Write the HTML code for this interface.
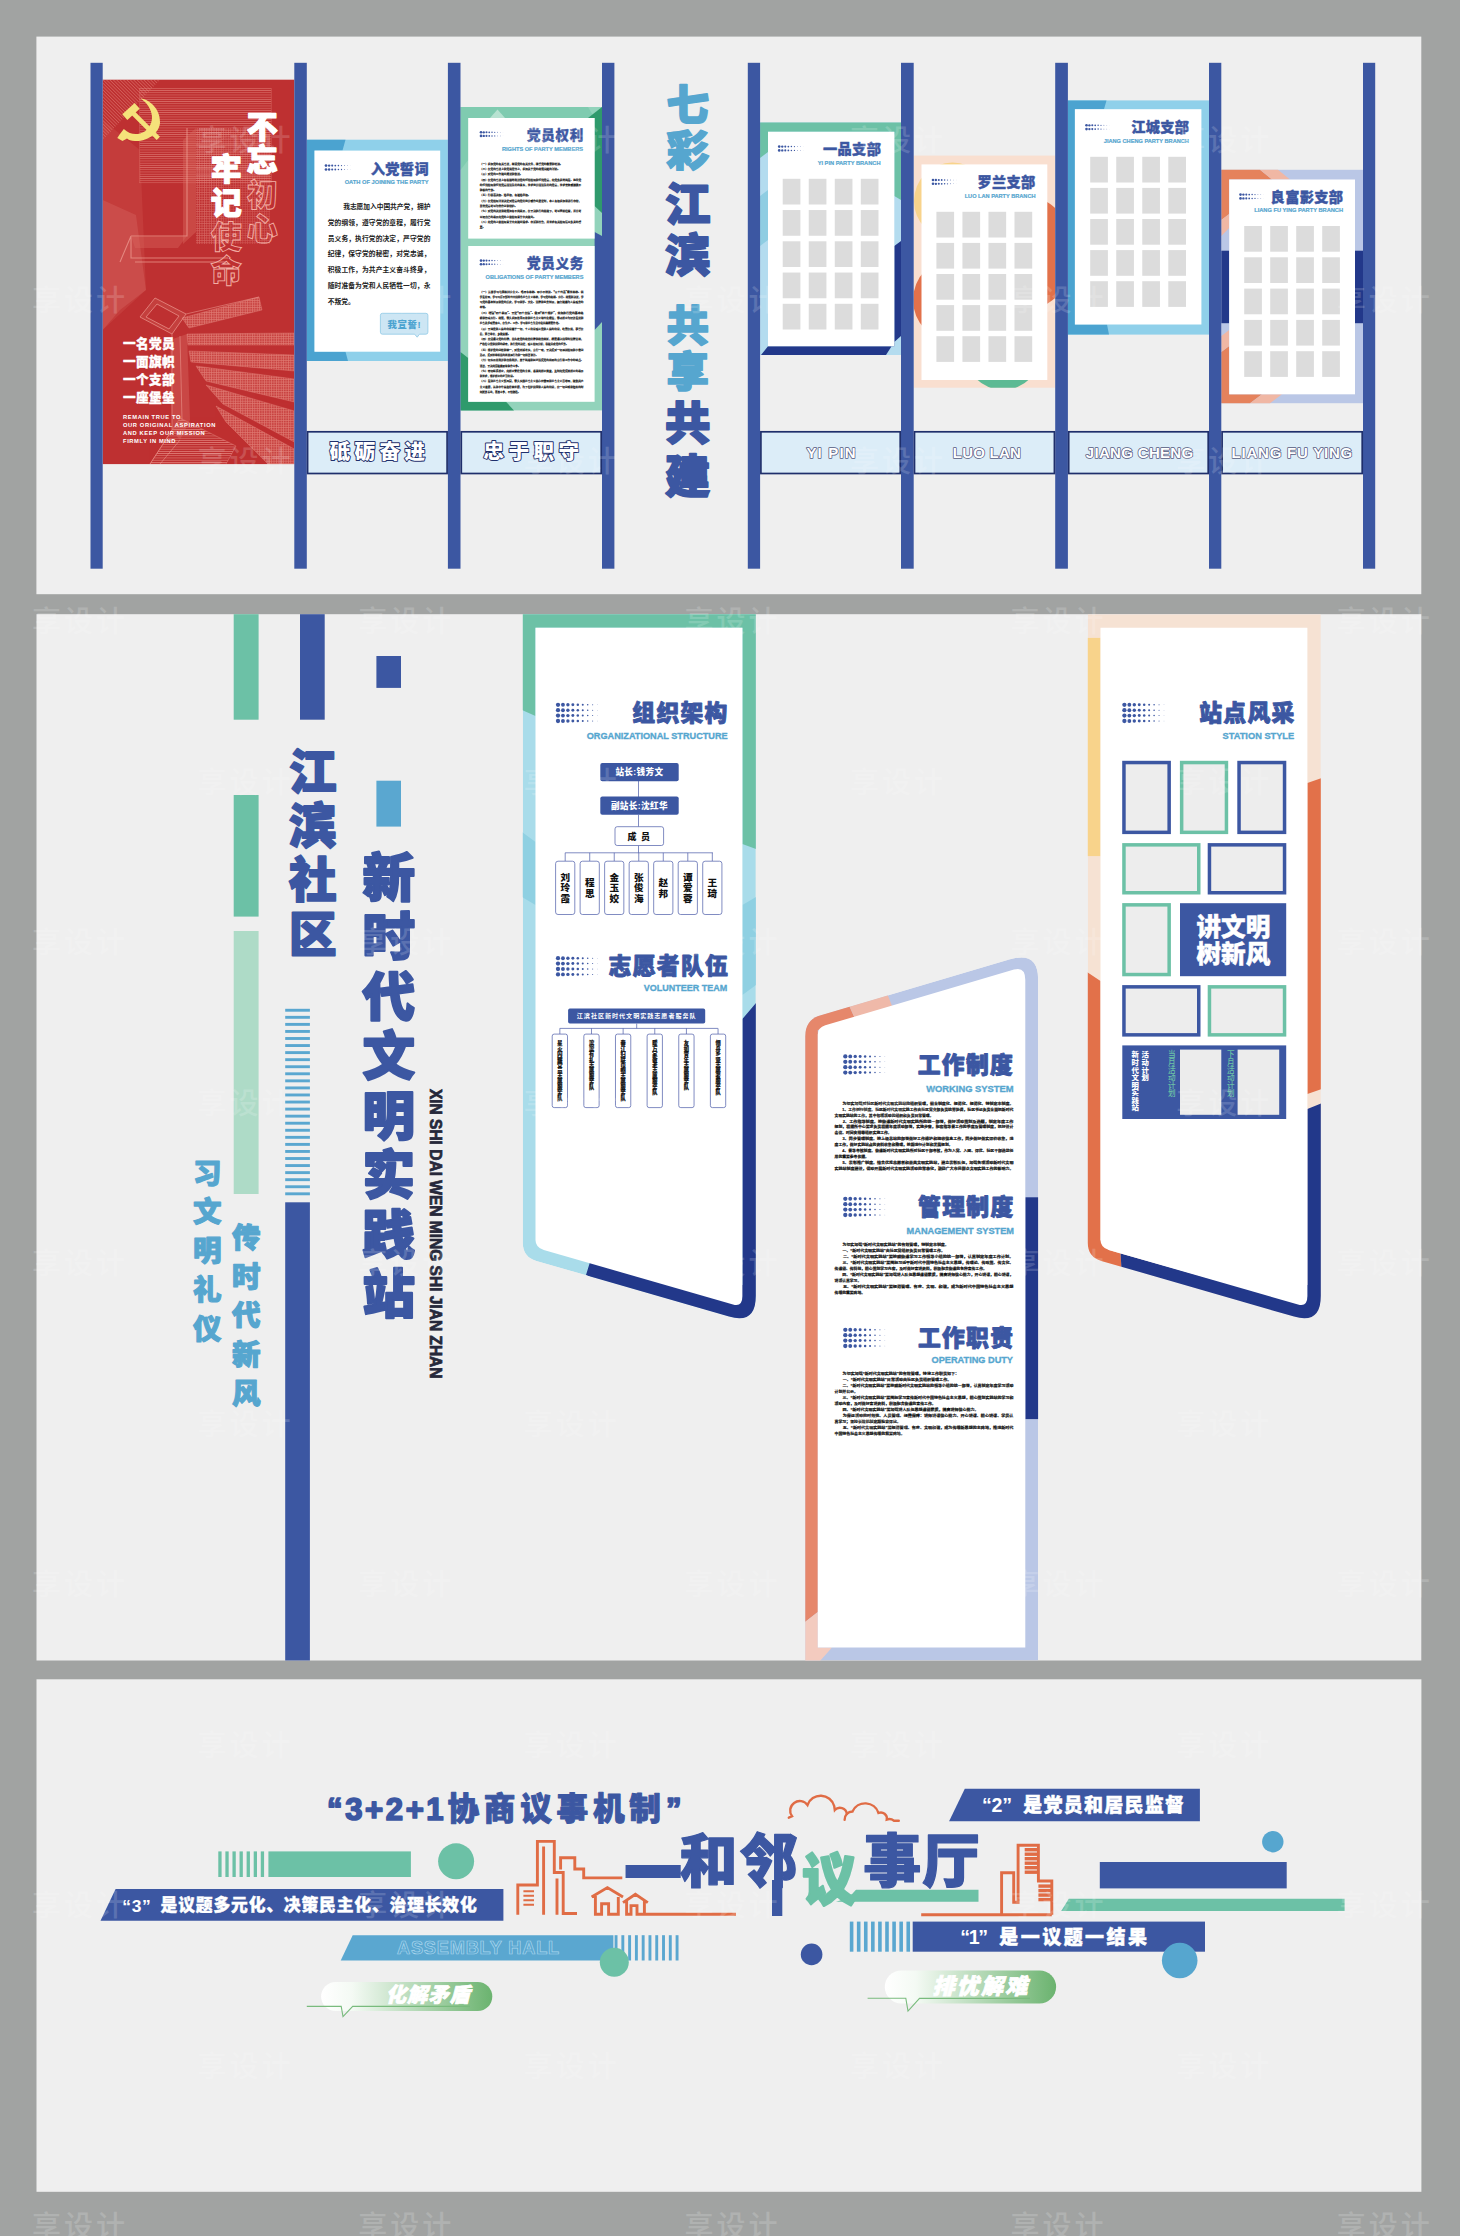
<!DOCTYPE html>
<html lang="zh-CN"><head><meta charset="utf-8"><title>江滨社区 新时代文明实践站</title>
<style>html,body{margin:0;padding:0;background:#a1a3a2;}svg{display:block;font-family:'Liberation Sans','Noto Sans CJK SC',sans-serif;}
svg text[font-weight="900"]{font-family:'Liberation Sans','Noto Sans CJK SC Black','Noto Sans CJK SC',sans-serif;}</style></head>
<body>
<svg width="1460" height="2236" viewBox="0 0 1460 2236">
<defs>
<pattern id="hatchH" width="4" height="2.2" patternUnits="userSpaceOnUse"><rect width="4" height="0.7" fill="#f0a096"/></pattern>
<pattern id="hatchG" width="2.4" height="2.4" patternUnits="userSpaceOnUse"><path d="M0,0.4 H2.4 M0.4,0 V2.4" stroke="#f0a096" stroke-width="0.6"/></pattern>
<pattern id="hatchD" width="2.4" height="2.4" patternUnits="userSpaceOnUse" patternTransform="rotate(45)"><rect width="2.4" height="0.8" fill="#e88a80"/></pattern>
</defs>
<rect width="1460" height="2236" fill="#a1a3a2"/>
<rect x="36.40" y="36.60" width="1384.90" height="557.60" fill="#efefef" />
<g>
<rect x="102.70" y="79.70" width="191.60" height="384.40" fill="#be3031" />
<clipPath id="cpRed"><rect x="102.7" y="79.7" width="191.6" height="384.4"/></clipPath>
<g clip-path="url(#cpRed)" fill="none" stroke="#f0a096">
<rect x="139.7" y="88.3" width="131.5" height="94.5" fill="url(#hatchH)" stroke="#e88a80" stroke-width="0.5" opacity="0.55"/>
<polygon points="183,140 196,128 196,232 183,244" fill="#d9675e" stroke="none" opacity="0.45"/>
<polygon points="196,128 236,128 223,140 223,244 196,244" fill="url(#hatchG)" stroke="none" opacity="0.5"/>
<polygon points="236,128 270,128 270,244 223,244 223,140" fill="url(#hatchG)" stroke="none" opacity="0.35"/>
<polygon points="102.7,120 140,150 146,290 102.7,330" fill="#d9685e" stroke="none" opacity="0.22"/>
<polygon points="102.7,200 136,215 146,290 120,310 102.7,330" fill="#e48a7e" stroke="none" opacity="0.22"/>
<polygon points="102.7,79.7 160,79.7 102.7,140" fill="url(#hatchD)" stroke="none" opacity="0.5"/>
<path d="M131,236 L187,236 L187,128 M131,236 L131,258 L228,258 M135,262 L226,262 M131,236 L120,262" stroke-width="1.1" opacity="0.7"/>
<polygon points="131,236 187,236 178,248 135,248" fill="#d9675e" stroke="none" opacity="0.4"/>
<polygon points="182,318 259,297 262,310 189,328" fill="#e57f73" stroke="none" opacity="0.28"/>
<polygon points="182,318 259,297 262,310 189,328" fill="url(#hatchG)" stroke="#f0a096" stroke-width="0.5" opacity="0.6"/>
<polygon points="187,334 294.3,333 294.3,345 188,345" fill="#e57f73" stroke="none" opacity="0.28"/>
<polygon points="187,334 294.3,333 294.3,345 188,345" fill="url(#hatchG)" stroke="#f0a096" stroke-width="0.5" opacity="0.6"/>
<polygon points="189,351 294.3,355 294.3,371 191,362" fill="#e57f73" stroke="none" opacity="0.28"/>
<polygon points="189,351 294.3,355 294.3,371 191,362" fill="url(#hatchG)" stroke="#f0a096" stroke-width="0.5" opacity="0.6"/>
<polygon points="196,366 294.3,379 294.3,402 206,381" fill="#e57f73" stroke="none" opacity="0.28"/>
<polygon points="196,366 294.3,379 294.3,402 206,381" fill="url(#hatchG)" stroke="#f0a096" stroke-width="0.5" opacity="0.6"/>
<polygon points="206,385 294.3,411 294.3,442 223,404" fill="#e57f73" stroke="none" opacity="0.28"/>
<polygon points="206,385 294.3,411 294.3,442 223,404" fill="url(#hatchG)" stroke="#f0a096" stroke-width="0.5" opacity="0.6"/>
<polygon points="216,406 294.3,449 294.3,464.1 268,464.1 226,422" fill="#e57f73" stroke="none" opacity="0.28"/>
<polygon points="216,406 294.3,449 294.3,464.1 268,464.1 226,422" fill="url(#hatchG)" stroke="#f0a096" stroke-width="0.5" opacity="0.6"/>
<polygon points="180,418 236,446 226,464.1 150,464.1" fill="url(#hatchH)" stroke="#f0a096" stroke-width="0.5" opacity="0.7"/>
<polygon points="170,340 187,334 190,420 180,440 172,430" fill="#e57f73" stroke="none" opacity="0.3"/>
<path d="M140,317 L155,298 L186,314 L172,334 Z M146,317 L157,304 L179,316 L169,329 Z" stroke-width="0.9" opacity="0.75" fill="#e57f73" fill-opacity="0.25" fill-rule="evenodd"/>
<path d="M186,314 L259,297 M172,334 L172,430 M180,336 L182,420 M150,464 L172,430 M160,464 L180,440" stroke-width="0.8" opacity="0.65"/>
</g>
<g fill="#f5e27a" stroke="none">
<path d="M140.4,98.2 C151,100 160.5,110 160,122.5 C159.5,133 148,141.5 135,141 C131,141 128.5,140 127,138.6 L122.5,141 L117.3,138 L119.6,134.5 L123.8,129 C129,134 135,134.8 140,133.5 C147.5,131.5 152.3,124.5 152,116.5 C151.5,108.5 146.5,102.5 140.4,98.2 Z"/>
<polygon points="139.7,108.8 134.65,103.1 122.3,114.2 127.35,119.9"/>
<path d="M132.5,112.5 L158.3,138.3" stroke="#f5e27a" stroke-width="4.6" fill="none"/>
</g>
<text font-size="31" font-weight="900" fill="#ffffff" text-anchor="middle"  stroke="#ffffff" stroke-width="1.24" stroke-linejoin="round"><tspan x="262.30" y="137.50">不</tspan><tspan x="262.30" y="171.40">忘</tspan></text>
<text font-size="31" font-weight="900" fill="none" text-anchor="middle" stroke="#f3b0a6" stroke-width="0.9"><tspan x="262.30" y="206.30">初</tspan><tspan x="262.30" y="239.80">心</tspan></text>
<text font-size="31" font-weight="900" fill="#ffffff" text-anchor="middle"  stroke="#ffffff" stroke-width="1.24" stroke-linejoin="round"><tspan x="226.20" y="179.60">牢</tspan><tspan x="226.20" y="213.80">记</tspan></text>
<text font-size="31" font-weight="900" fill="none" text-anchor="middle" stroke="#f3b0a6" stroke-width="0.9"><tspan x="226.20" y="248.00">使</tspan><tspan x="226.20" y="282.40">命</tspan></text>
<text x="123.00" y="348.30" font-size="12.6" font-weight="900" fill="#ffffff" letter-spacing="0.4"  stroke="#ffffff" stroke-width="0.35" stroke-linejoin="round">一名党员</text>
<text x="123.00" y="366.05" font-size="12.6" font-weight="900" fill="#ffffff" letter-spacing="0.4"  stroke="#ffffff" stroke-width="0.35" stroke-linejoin="round">一面旗帜</text>
<text x="123.00" y="383.80" font-size="12.6" font-weight="900" fill="#ffffff" letter-spacing="0.4"  stroke="#ffffff" stroke-width="0.35" stroke-linejoin="round">一个支部</text>
<text x="123.00" y="401.55" font-size="12.6" font-weight="900" fill="#ffffff" letter-spacing="0.4"  stroke="#ffffff" stroke-width="0.35" stroke-linejoin="round">一座堡垒</text>
<text x="123.00" y="418.70" font-size="5.75" font-weight="700" fill="#ffffff" letter-spacing="0.62" >REMAIN TRUE TO</text>
<text x="123.00" y="426.85" font-size="5.75" font-weight="700" fill="#ffffff" letter-spacing="0.62" >OUR ORIGINAL ASPIRATION</text>
<text x="123.00" y="435.00" font-size="5.75" font-weight="700" fill="#ffffff" letter-spacing="0.62" >AND KEEP OUR MISSION</text>
<text x="123.00" y="443.15" font-size="5.75" font-weight="700" fill="#ffffff" letter-spacing="0.62" >FIRMLY IN MIND</text>
</g>
<rect x="306.80" y="139.70" width="141.10" height="221.30" fill="#8fd0ea" />
<polygon points="306.80,139.70 345.50,139.70 342.50,150.60 314.50,150.60 314.50,351.70 345.50,351.70 348.00,361.00 306.80,361.00" fill="#4ba3d0" />
<rect x="314.50" y="150.60" width="125.70" height="201.10" fill="#ffffff" />
<circle cx="326.00" cy="165.60" r="1.35" fill="#3c57a2"/>
<circle cx="329.10" cy="165.60" r="1.21" fill="#3c57a2"/>
<circle cx="332.20" cy="165.60" r="1.07" fill="#3c57a2"/>
<circle cx="335.30" cy="165.60" r="0.93" fill="#3c57a2"/>
<circle cx="338.40" cy="165.60" r="0.78" fill="#3c57a2"/>
<circle cx="341.50" cy="165.60" r="0.63" fill="#3c57a2"/>
<circle cx="344.60" cy="165.60" r="0.48" fill="#3c57a2"/>
<circle cx="347.70" cy="165.60" r="0.32" fill="#3c57a2"/>
<circle cx="350.80" cy="165.60" r="0.16" fill="#3c57a2"/>
<circle cx="326.00" cy="169.50" r="1.35" fill="#3c57a2"/>
<circle cx="329.10" cy="169.50" r="1.21" fill="#3c57a2"/>
<circle cx="332.20" cy="169.50" r="1.07" fill="#3c57a2"/>
<circle cx="335.30" cy="169.50" r="0.93" fill="#3c57a2"/>
<circle cx="338.40" cy="169.50" r="0.78" fill="#3c57a2"/>
<circle cx="341.50" cy="169.50" r="0.63" fill="#3c57a2"/>
<circle cx="344.60" cy="169.50" r="0.48" fill="#3c57a2"/>
<circle cx="347.70" cy="169.50" r="0.32" fill="#3c57a2"/>
<circle cx="350.80" cy="169.50" r="0.16" fill="#3c57a2"/>
<text x="429.00" y="173.50" font-size="14.2" font-weight="900" fill="#3c57a2" text-anchor="end" letter-spacing="0.4"  stroke="#3c57a2" stroke-width="0.40" stroke-linejoin="round">入党誓词</text>
<text x="344.70" y="183.60" font-size="5.5" font-weight="700" fill="#56a6cf"  stroke="#56a6cf" stroke-width="0.19" textLength="83.8" lengthAdjust="spacingAndGlyphs">OATH OF JOINING THE PARTY</text>
<text x="343.2" y="208.90" font-size="6.75" font-weight="700" fill="#1a1a1a" textLength="87.2" lengthAdjust="spacing">我志愿加入中国共产党，拥护</text>
<text x="327.7" y="224.76" font-size="6.75" font-weight="700" fill="#1a1a1a" textLength="102.7" lengthAdjust="spacing">党的纲领，遵守党的章程，履行党</text>
<text x="327.7" y="240.62" font-size="6.75" font-weight="700" fill="#1a1a1a" textLength="102.7" lengthAdjust="spacing">员义务，执行党的决定，严守党的</text>
<text x="327.7" y="256.48" font-size="6.75" font-weight="700" fill="#1a1a1a" textLength="102.7" lengthAdjust="spacing">纪律，保守党的秘密，对党忠诚，</text>
<text x="327.7" y="272.34" font-size="6.75" font-weight="700" fill="#1a1a1a" textLength="102.7" lengthAdjust="spacing">积极工作，为共产主义奋斗终身，</text>
<text x="327.7" y="288.20" font-size="6.75" font-weight="700" fill="#1a1a1a" textLength="102.7" lengthAdjust="spacing">随时准备为党和人民牺牲一切，永</text>
<text x="327.7" y="304.06" font-size="6.75" font-weight="700" fill="#1a1a1a" textLength="27.0" lengthAdjust="spacing">不叛党。</text>
<path d="M382.4,313.3 H425.9 a2,2 0 0 1 2,2 V332.2 a2,2 0 0 1 -2,2 H419.5 L417.2,337.2 L414.6,334.2 H382.4 a2,2 0 0 1 -2,-2 V315.3 a2,2 0 0 1 2,-2 Z" fill="#cde6f4" stroke="#8fc9e6" stroke-width="0.8"/>
<text x="404.30" y="327.60" font-size="9.4" font-weight="900" fill="#4ba3d0" text-anchor="middle" letter-spacing="0.6" >我宣誓!</text>
<rect x="460.50" y="107.00" width="141.50" height="303.40" fill="#92d3bb" />
<polygon points="460.50,107.00 588.00,107.00 594.60,118.00 468.20,118.00 468.20,160.00 460.50,170.00" fill="#7fcbb0" />
<polygon points="594.60,118.00 602.00,110.00 602.00,213.00 594.60,206.00" fill="#2f9a6c" />
<polygon points="588.00,118.00 602.00,107.00 602.00,118.00" fill="#2f9a6c" />
<polygon points="594.60,232.00 602.00,236.00 602.00,322.00 594.60,330.00" fill="#3c57a2" />
<polygon points="460.50,352.00 468.20,358.00 468.20,401.80 506.00,401.80 514.00,410.40 460.50,410.40" fill="#2f9a6c" />
<polygon points="490.00,118.00 497.50,109.50 505.00,118.00" fill="#b7e2d1" />
<rect x="468.20" y="118.00" width="126.40" height="120.60" fill="#ffffff" />
<rect x="468.20" y="246.00" width="126.40" height="155.80" fill="#ffffff" />
<circle cx="481.00" cy="132.30" r="1.30" fill="#3c57a2"/>
<circle cx="483.75" cy="132.30" r="1.17" fill="#3c57a2"/>
<circle cx="486.50" cy="132.30" r="1.03" fill="#3c57a2"/>
<circle cx="489.25" cy="132.30" r="0.89" fill="#3c57a2"/>
<circle cx="492.00" cy="132.30" r="0.75" fill="#3c57a2"/>
<circle cx="494.75" cy="132.30" r="0.61" fill="#3c57a2"/>
<circle cx="497.50" cy="132.30" r="0.46" fill="#3c57a2"/>
<circle cx="500.25" cy="132.30" r="0.31" fill="#3c57a2"/>
<circle cx="503.00" cy="132.30" r="0.15" fill="#3c57a2"/>
<circle cx="481.00" cy="135.90" r="1.30" fill="#3c57a2"/>
<circle cx="483.75" cy="135.90" r="1.17" fill="#3c57a2"/>
<circle cx="486.50" cy="135.90" r="1.03" fill="#3c57a2"/>
<circle cx="489.25" cy="135.90" r="0.89" fill="#3c57a2"/>
<circle cx="492.00" cy="135.90" r="0.75" fill="#3c57a2"/>
<circle cx="494.75" cy="135.90" r="0.61" fill="#3c57a2"/>
<circle cx="497.50" cy="135.90" r="0.46" fill="#3c57a2"/>
<circle cx="500.25" cy="135.90" r="0.31" fill="#3c57a2"/>
<circle cx="503.00" cy="135.90" r="0.15" fill="#3c57a2"/>
<text x="583.90" y="139.80" font-size="13.5" font-weight="900" fill="#3c57a2" text-anchor="end" letter-spacing="0.7"  stroke="#3c57a2" stroke-width="0.38" stroke-linejoin="round">党员权利</text>
<text x="501.90" y="150.50" font-size="5.4" font-weight="700" fill="#56a6cf"  stroke="#56a6cf" stroke-width="0.19" textLength="81.1" lengthAdjust="spacingAndGlyphs">RIGHTS OF PARTY MEMBERS</text>
<text x="479.80" y="164.60" font-size="2.75" font-weight="700" fill="#111" stroke="#111" stroke-width="0.124" textLength="82.7" lengthAdjust="spacingAndGlyphs">（一）参加党的有关会议，阅读党的有关文件，接受党的教育和培训。</text>
<text x="479.80" y="169.90" font-size="2.75" font-weight="700" fill="#111" stroke="#111" stroke-width="0.124" textLength="80.1" lengthAdjust="spacingAndGlyphs">（二）在党的会议上和党报党刊上，参加关于党的政策问题的讨论。</text>
<text x="479.80" y="175.20" font-size="2.75" font-weight="700" fill="#111" stroke="#111" stroke-width="0.124" textLength="42.7" lengthAdjust="spacingAndGlyphs">（三）对党的工作提出建议和倡议。</text>
<text x="479.80" y="180.50" font-size="2.75" font-weight="700" fill="#111" stroke="#111" stroke-width="0.124" textLength="101.4" lengthAdjust="spacingAndGlyphs">（四）在党的会议上有根据地批评党的任何组织和任何党员，向党负责地揭发、检举党</text>
<text x="479.80" y="185.80" font-size="2.75" font-weight="700" fill="#111" stroke="#111" stroke-width="0.124" textLength="101.4" lengthAdjust="spacingAndGlyphs">的任何组织和任何党员违法乱纪的事实，要求处分违法乱纪的党员，要求罢免或撤换不</text>
<text x="479.80" y="191.10" font-size="2.75" font-weight="700" fill="#111" stroke="#111" stroke-width="0.124" textLength="16.0" lengthAdjust="spacingAndGlyphs">称职的干部。</text>
<text x="479.80" y="196.40" font-size="2.75" font-weight="700" fill="#111" stroke="#111" stroke-width="0.124" textLength="50.7" lengthAdjust="spacingAndGlyphs">（五）行使表决权、选举权，有被选举权。</text>
<text x="479.80" y="201.70" font-size="2.75" font-weight="700" fill="#111" stroke="#111" stroke-width="0.124" textLength="101.4" lengthAdjust="spacingAndGlyphs">（六）在党组织讨论决定对党员的党纪处分或作出鉴定时，本人有权参加和进行申辩，</text>
<text x="479.80" y="207.00" font-size="2.75" font-weight="700" fill="#111" stroke="#111" stroke-width="0.124" textLength="37.4" lengthAdjust="spacingAndGlyphs">其他党员可以为他作证和辩护。</text>
<text x="479.80" y="212.30" font-size="2.75" font-weight="700" fill="#111" stroke="#111" stroke-width="0.124" textLength="101.4" lengthAdjust="spacingAndGlyphs">（七）对党的决议和政策如有不同意见，在坚决执行的前提下，可以声明保留，并且可</text>
<text x="479.80" y="217.60" font-size="2.75" font-weight="700" fill="#111" stroke="#111" stroke-width="0.124" textLength="56.0" lengthAdjust="spacingAndGlyphs">以把自己的意见向党的上级组织直至中央提出。</text>
<text x="479.80" y="222.90" font-size="2.75" font-weight="700" fill="#111" stroke="#111" stroke-width="0.124" textLength="101.4" lengthAdjust="spacingAndGlyphs">（八）向党的上级组织直至中央提出请求、申诉和控告，并要求有关组织给以负责的答</text>
<text x="479.80" y="228.20" font-size="2.75" font-weight="700" fill="#111" stroke="#111" stroke-width="0.124" textLength="5.3" lengthAdjust="spacingAndGlyphs">复。</text>
<circle cx="481.00" cy="260.60" r="1.30" fill="#3c57a2"/>
<circle cx="483.75" cy="260.60" r="1.17" fill="#3c57a2"/>
<circle cx="486.50" cy="260.60" r="1.03" fill="#3c57a2"/>
<circle cx="489.25" cy="260.60" r="0.89" fill="#3c57a2"/>
<circle cx="492.00" cy="260.60" r="0.75" fill="#3c57a2"/>
<circle cx="494.75" cy="260.60" r="0.61" fill="#3c57a2"/>
<circle cx="497.50" cy="260.60" r="0.46" fill="#3c57a2"/>
<circle cx="500.25" cy="260.60" r="0.31" fill="#3c57a2"/>
<circle cx="503.00" cy="260.60" r="0.15" fill="#3c57a2"/>
<circle cx="481.00" cy="264.20" r="1.30" fill="#3c57a2"/>
<circle cx="483.75" cy="264.20" r="1.17" fill="#3c57a2"/>
<circle cx="486.50" cy="264.20" r="1.03" fill="#3c57a2"/>
<circle cx="489.25" cy="264.20" r="0.89" fill="#3c57a2"/>
<circle cx="492.00" cy="264.20" r="0.75" fill="#3c57a2"/>
<circle cx="494.75" cy="264.20" r="0.61" fill="#3c57a2"/>
<circle cx="497.50" cy="264.20" r="0.46" fill="#3c57a2"/>
<circle cx="500.25" cy="264.20" r="0.31" fill="#3c57a2"/>
<circle cx="503.00" cy="264.20" r="0.15" fill="#3c57a2"/>
<text x="583.90" y="268.00" font-size="13.5" font-weight="900" fill="#3c57a2" text-anchor="end" letter-spacing="0.7"  stroke="#3c57a2" stroke-width="0.38" stroke-linejoin="round">党员义务</text>
<text x="485.60" y="278.80" font-size="5.4" font-weight="700" fill="#56a6cf"  stroke="#56a6cf" stroke-width="0.19" textLength="97.8" lengthAdjust="spacingAndGlyphs">OBLIGATIONS OF PARTY MEMBERS</text>
<text x="479.80" y="292.60" font-size="2.75" font-weight="700" fill="#111" stroke="#111" stroke-width="0.124" textLength="103.7" lengthAdjust="spacingAndGlyphs">（一）认真学习马克思列宁主义、毛泽东思想、邓小平理论、“三个代表”重要思想、科</text>
<text x="479.80" y="297.88" font-size="2.75" font-weight="700" fill="#111" stroke="#111" stroke-width="0.124" textLength="103.7" lengthAdjust="spacingAndGlyphs">学发展观，学习习近平新时代中国特色社会主义思想，学习党的路线、方针、政策和决议，学</text>
<text x="479.80" y="303.16" font-size="2.75" font-weight="700" fill="#111" stroke="#111" stroke-width="0.124" textLength="103.7" lengthAdjust="spacingAndGlyphs">习党的基本知识和党的历史，学习科学、文化、法律和业务知识，努力提高为人民服务的</text>
<text x="479.80" y="308.44" font-size="2.75" font-weight="700" fill="#111" stroke="#111" stroke-width="0.124" textLength="7.6" lengthAdjust="spacingAndGlyphs">本领。</text>
<text x="479.80" y="313.72" font-size="2.75" font-weight="700" fill="#111" stroke="#111" stroke-width="0.124" textLength="103.7" lengthAdjust="spacingAndGlyphs">（二）增强“四个意识”、坚定“四个自信”、做到“两个维护”，贯彻执行党的基本路</text>
<text x="479.80" y="319.00" font-size="2.75" font-weight="700" fill="#111" stroke="#111" stroke-width="0.124" textLength="103.7" lengthAdjust="spacingAndGlyphs">线和各项方针、政策，带头参加改革开放和社会主义现代化建设，带动群众为经济发展和</text>
<text x="479.80" y="324.28" font-size="2.75" font-weight="700" fill="#111" stroke="#111" stroke-width="0.124" textLength="80.9" lengthAdjust="spacingAndGlyphs">社会进步艰苦奋斗，在生产、工作、学习和社会生活中起先锋模范作用。</text>
<text x="479.80" y="329.56" font-size="2.75" font-weight="700" fill="#111" stroke="#111" stroke-width="0.124" textLength="103.7" lengthAdjust="spacingAndGlyphs">（三）坚持党和人民的利益高于一切，个人利益服从党和人民的利益，吃苦在前，享受在</text>
<text x="479.80" y="334.84" font-size="2.75" font-weight="700" fill="#111" stroke="#111" stroke-width="0.124" textLength="30.4" lengthAdjust="spacingAndGlyphs">后，克己奉公，多做贡献。</text>
<text x="479.80" y="340.12" font-size="2.75" font-weight="700" fill="#111" stroke="#111" stroke-width="0.124" textLength="103.7" lengthAdjust="spacingAndGlyphs">（四）自觉遵守党的纪律，首先是党的政治纪律和政治规矩，模范遵守国家的法律法规，</text>
<text x="479.80" y="345.40" font-size="2.75" font-weight="700" fill="#111" stroke="#111" stroke-width="0.124" textLength="88.5" lengthAdjust="spacingAndGlyphs">严格保守党和国家的秘密，执行党的决定，服从组织分配，积极完成党的任务。</text>
<text x="479.80" y="350.68" font-size="2.75" font-weight="700" fill="#111" stroke="#111" stroke-width="0.124" textLength="103.7" lengthAdjust="spacingAndGlyphs">（五）维护党的团结和统一，对党忠诚老实，言行一致，坚决反对一切派别组织和小集团</text>
<text x="479.80" y="355.96" font-size="2.75" font-weight="700" fill="#111" stroke="#111" stroke-width="0.124" textLength="58.2" lengthAdjust="spacingAndGlyphs">活动，反对阳奉阴违的两面派行为和一切阴谋诡计。</text>
<text x="479.80" y="361.24" font-size="2.75" font-weight="700" fill="#111" stroke="#111" stroke-width="0.124" textLength="103.7" lengthAdjust="spacingAndGlyphs">（六）切实开展批评和自我批评，勇于揭露和纠正违反党的原则的言行和工作中的缺点、</text>
<text x="479.80" y="366.52" font-size="2.75" font-weight="700" fill="#111" stroke="#111" stroke-width="0.124" textLength="40.5" lengthAdjust="spacingAndGlyphs">错误，坚决同消极腐败现象作斗争。</text>
<text x="479.80" y="371.80" font-size="2.75" font-weight="700" fill="#111" stroke="#111" stroke-width="0.124" textLength="103.7" lengthAdjust="spacingAndGlyphs">（七）密切联系群众，向群众宣传党的主张，遇事同群众商量，及时向党反映群众的意见</text>
<text x="479.80" y="377.08" font-size="2.75" font-weight="700" fill="#111" stroke="#111" stroke-width="0.124" textLength="35.4" lengthAdjust="spacingAndGlyphs">和要求，维护群众的正当利益。</text>
<text x="479.80" y="382.36" font-size="2.75" font-weight="700" fill="#111" stroke="#111" stroke-width="0.124" textLength="103.7" lengthAdjust="spacingAndGlyphs">（八）发扬社会主义新风尚，带头实践社会主义核心价值观和社会主义荣辱观，提倡共产</text>
<text x="479.80" y="387.64" font-size="2.75" font-weight="700" fill="#111" stroke="#111" stroke-width="0.124" textLength="103.7" lengthAdjust="spacingAndGlyphs">主义道德，弘扬中华民族传统美德，为了保护国家和人民的利益，在一切困难和危险的时</text>
<text x="479.80" y="392.92" font-size="2.75" font-weight="700" fill="#111" stroke="#111" stroke-width="0.124" textLength="40.5" lengthAdjust="spacingAndGlyphs">刻挺身而出，英勇斗争，不怕牺牲。</text>
<text font-size="42.5" font-weight="900" fill="#56a6cf" text-anchor="middle"  stroke="#56a6cf" stroke-width="1.70" stroke-linejoin="round"><tspan x="687.70" y="119.60">七</tspan></text>
<text font-size="42.5" font-weight="900" fill="#56a6cf" text-anchor="middle"  stroke="#56a6cf" stroke-width="1.70" stroke-linejoin="round"><tspan x="687.70" y="165.80">彩</tspan></text>
<text font-size="45.5" font-weight="900" fill="#3c57a2" text-anchor="middle"  stroke="#3c57a2" stroke-width="1.82" stroke-linejoin="round"><tspan x="687.70" y="220.60">江</tspan></text>
<text font-size="45.5" font-weight="900" fill="#3c57a2" text-anchor="middle"  stroke="#3c57a2" stroke-width="1.82" stroke-linejoin="round"><tspan x="687.70" y="272.20">滨</tspan></text>
<text font-size="42.5" font-weight="900" fill="#56a6cf" text-anchor="middle"  stroke="#56a6cf" stroke-width="1.70" stroke-linejoin="round"><tspan x="687.70" y="340.80">共</tspan></text>
<text font-size="42.5" font-weight="900" fill="#56a6cf" text-anchor="middle"  stroke="#56a6cf" stroke-width="1.70" stroke-linejoin="round"><tspan x="687.70" y="387.20">享</tspan></text>
<text font-size="45.5" font-weight="900" fill="#3c57a2" text-anchor="middle"  stroke="#3c57a2" stroke-width="1.82" stroke-linejoin="round"><tspan x="687.70" y="439.80">共</tspan></text>
<text font-size="45.5" font-weight="900" fill="#3c57a2" text-anchor="middle"  stroke="#3c57a2" stroke-width="1.82" stroke-linejoin="round"><tspan x="687.70" y="492.60">建</tspan></text>
<rect x="760.10" y="122.50" width="140.90" height="232.50" fill="#b4dcef" />
<polygon points="760.10,122.50 901.00,122.50 901.00,200.00 894.30,196.00 894.30,131.80 768.00,131.80 768.00,152.00 760.10,158.00" fill="#6cc1a6" />
<polygon points="760.10,196.00 768.00,190.00 768.00,240.00 760.10,246.00" fill="#8fcde2" />
<polygon points="894.30,246.00 901.00,241.00 901.00,336.00 894.30,342.00 886.00,355.00 761.00,355.00 768.00,346.20 894.30,346.20" fill="#22388a" />
<rect x="768.00" y="131.80" width="126.30" height="214.40" fill="#ffffff" />
<circle cx="779.20" cy="146.60" r="1.30" fill="#3c57a2"/>
<circle cx="782.25" cy="146.60" r="1.17" fill="#3c57a2"/>
<circle cx="785.30" cy="146.60" r="1.03" fill="#3c57a2"/>
<circle cx="788.35" cy="146.60" r="0.89" fill="#3c57a2"/>
<circle cx="791.40" cy="146.60" r="0.75" fill="#3c57a2"/>
<circle cx="794.45" cy="146.60" r="0.61" fill="#3c57a2"/>
<circle cx="797.50" cy="146.60" r="0.46" fill="#3c57a2"/>
<circle cx="800.55" cy="146.60" r="0.31" fill="#3c57a2"/>
<circle cx="803.60" cy="146.60" r="0.15" fill="#3c57a2"/>
<circle cx="779.20" cy="150.40" r="1.30" fill="#3c57a2"/>
<circle cx="782.25" cy="150.40" r="1.17" fill="#3c57a2"/>
<circle cx="785.30" cy="150.40" r="1.03" fill="#3c57a2"/>
<circle cx="788.35" cy="150.40" r="0.89" fill="#3c57a2"/>
<circle cx="791.40" cy="150.40" r="0.75" fill="#3c57a2"/>
<circle cx="794.45" cy="150.40" r="0.61" fill="#3c57a2"/>
<circle cx="797.50" cy="150.40" r="0.46" fill="#3c57a2"/>
<circle cx="800.55" cy="150.40" r="0.31" fill="#3c57a2"/>
<circle cx="803.60" cy="150.40" r="0.15" fill="#3c57a2"/>
<text x="881.20" y="154.20" font-size="14.2" font-weight="900" fill="#3c57a2" text-anchor="end" letter-spacing="0.35"  stroke="#3c57a2" stroke-width="0.40" stroke-linejoin="round">一品支部</text>
<text x="817.70" y="164.70" font-size="5.5" font-weight="700" fill="#56a6cf"  stroke="#56a6cf" stroke-width="0.19" textLength="62.8" lengthAdjust="spacingAndGlyphs">YI PIN PARTY BRANCH</text>
<rect x="782.70" y="178.80" width="17.70" height="25.70" fill="#dcdcdc" />
<rect x="808.73" y="178.80" width="17.70" height="25.70" fill="#dcdcdc" />
<rect x="834.76" y="178.80" width="17.70" height="25.70" fill="#dcdcdc" />
<rect x="860.79" y="178.80" width="17.70" height="25.70" fill="#dcdcdc" />
<rect x="782.70" y="210.05" width="17.70" height="25.70" fill="#dcdcdc" />
<rect x="808.73" y="210.05" width="17.70" height="25.70" fill="#dcdcdc" />
<rect x="834.76" y="210.05" width="17.70" height="25.70" fill="#dcdcdc" />
<rect x="860.79" y="210.05" width="17.70" height="25.70" fill="#dcdcdc" />
<rect x="782.70" y="241.30" width="17.70" height="25.70" fill="#dcdcdc" />
<rect x="808.73" y="241.30" width="17.70" height="25.70" fill="#dcdcdc" />
<rect x="834.76" y="241.30" width="17.70" height="25.70" fill="#dcdcdc" />
<rect x="860.79" y="241.30" width="17.70" height="25.70" fill="#dcdcdc" />
<rect x="782.70" y="272.55" width="17.70" height="25.70" fill="#dcdcdc" />
<rect x="808.73" y="272.55" width="17.70" height="25.70" fill="#dcdcdc" />
<rect x="834.76" y="272.55" width="17.70" height="25.70" fill="#dcdcdc" />
<rect x="860.79" y="272.55" width="17.70" height="25.70" fill="#dcdcdc" />
<rect x="782.70" y="303.80" width="17.70" height="25.70" fill="#dcdcdc" />
<rect x="808.73" y="303.80" width="17.70" height="25.70" fill="#dcdcdc" />
<rect x="834.76" y="303.80" width="17.70" height="25.70" fill="#dcdcdc" />
<rect x="860.79" y="303.80" width="17.70" height="25.70" fill="#dcdcdc" />
<clipPath id="cpB2"><rect x="913.7" y="155.6" width="141.5" height="232.1"/></clipPath>
<rect x="913.70" y="155.60" width="141.50" height="232.10" fill="#f9dfd0" />
<g clip-path="url(#cpB2)">
<circle cx="952.50" cy="201.00" r="38.50" fill="#f8d38b" />
<circle cx="1016.40" cy="253.00" r="59.40" fill="#e2714a" />
<circle cx="1003.00" cy="352.00" r="38.00" fill="#5cba94" />
<circle cx="955" cy="300" r="42" fill="#e2714a"/>
</g>
<rect x="921.50" y="164.40" width="125.80" height="215.60" fill="#ffffff" />
<circle cx="933.00" cy="180.00" r="1.30" fill="#3c57a2"/>
<circle cx="935.90" cy="180.00" r="1.17" fill="#3c57a2"/>
<circle cx="938.80" cy="180.00" r="1.03" fill="#3c57a2"/>
<circle cx="941.70" cy="180.00" r="0.89" fill="#3c57a2"/>
<circle cx="944.60" cy="180.00" r="0.75" fill="#3c57a2"/>
<circle cx="947.50" cy="180.00" r="0.61" fill="#3c57a2"/>
<circle cx="950.40" cy="180.00" r="0.46" fill="#3c57a2"/>
<circle cx="953.30" cy="180.00" r="0.31" fill="#3c57a2"/>
<circle cx="956.20" cy="180.00" r="0.15" fill="#3c57a2"/>
<circle cx="933.00" cy="183.80" r="1.30" fill="#3c57a2"/>
<circle cx="935.90" cy="183.80" r="1.17" fill="#3c57a2"/>
<circle cx="938.80" cy="183.80" r="1.03" fill="#3c57a2"/>
<circle cx="941.70" cy="183.80" r="0.89" fill="#3c57a2"/>
<circle cx="944.60" cy="183.80" r="0.75" fill="#3c57a2"/>
<circle cx="947.50" cy="183.80" r="0.61" fill="#3c57a2"/>
<circle cx="950.40" cy="183.80" r="0.46" fill="#3c57a2"/>
<circle cx="953.30" cy="183.80" r="0.31" fill="#3c57a2"/>
<circle cx="956.20" cy="183.80" r="0.15" fill="#3c57a2"/>
<text x="1035.60" y="187.20" font-size="14.2" font-weight="900" fill="#3c57a2" text-anchor="end" letter-spacing="0.35"  stroke="#3c57a2" stroke-width="0.40" stroke-linejoin="round">罗兰支部</text>
<text x="964.70" y="198.00" font-size="5.5" font-weight="700" fill="#56a6cf"  stroke="#56a6cf" stroke-width="0.19" textLength="70.8" lengthAdjust="spacingAndGlyphs">LUO LAN PARTY BRANCH</text>
<rect x="936.40" y="211.80" width="17.70" height="25.70" fill="#dcdcdc" />
<rect x="962.43" y="211.80" width="17.70" height="25.70" fill="#dcdcdc" />
<rect x="988.46" y="211.80" width="17.70" height="25.70" fill="#dcdcdc" />
<rect x="1014.49" y="211.80" width="17.70" height="25.70" fill="#dcdcdc" />
<rect x="936.40" y="242.90" width="17.70" height="25.70" fill="#dcdcdc" />
<rect x="962.43" y="242.90" width="17.70" height="25.70" fill="#dcdcdc" />
<rect x="988.46" y="242.90" width="17.70" height="25.70" fill="#dcdcdc" />
<rect x="1014.49" y="242.90" width="17.70" height="25.70" fill="#dcdcdc" />
<rect x="936.40" y="274.00" width="17.70" height="25.70" fill="#dcdcdc" />
<rect x="962.43" y="274.00" width="17.70" height="25.70" fill="#dcdcdc" />
<rect x="988.46" y="274.00" width="17.70" height="25.70" fill="#dcdcdc" />
<rect x="1014.49" y="274.00" width="17.70" height="25.70" fill="#dcdcdc" />
<rect x="936.40" y="305.10" width="17.70" height="25.70" fill="#dcdcdc" />
<rect x="962.43" y="305.10" width="17.70" height="25.70" fill="#dcdcdc" />
<rect x="988.46" y="305.10" width="17.70" height="25.70" fill="#dcdcdc" />
<rect x="1014.49" y="305.10" width="17.70" height="25.70" fill="#dcdcdc" />
<rect x="936.40" y="336.20" width="17.70" height="25.70" fill="#dcdcdc" />
<rect x="962.43" y="336.20" width="17.70" height="25.70" fill="#dcdcdc" />
<rect x="988.46" y="336.20" width="17.70" height="25.70" fill="#dcdcdc" />
<rect x="1014.49" y="336.20" width="17.70" height="25.70" fill="#dcdcdc" />
<rect x="1067.90" y="100.40" width="141.10" height="234.20" fill="#8fd0ea" />
<polygon points="1067.90,100.40 1106.50,100.40 1104.00,109.20 1074.90,109.20 1074.90,324.50 1107.00,324.50 1109.00,334.60 1067.90,334.60" fill="#4ba3d0" />
<rect x="1074.90" y="109.20" width="126.50" height="215.30" fill="#ffffff" />
<circle cx="1086.50" cy="125.30" r="1.30" fill="#3c57a2"/>
<circle cx="1089.40" cy="125.30" r="1.17" fill="#3c57a2"/>
<circle cx="1092.30" cy="125.30" r="1.03" fill="#3c57a2"/>
<circle cx="1095.20" cy="125.30" r="0.89" fill="#3c57a2"/>
<circle cx="1098.10" cy="125.30" r="0.75" fill="#3c57a2"/>
<circle cx="1101.00" cy="125.30" r="0.61" fill="#3c57a2"/>
<circle cx="1103.90" cy="125.30" r="0.46" fill="#3c57a2"/>
<circle cx="1106.80" cy="125.30" r="0.31" fill="#3c57a2"/>
<circle cx="1109.70" cy="125.30" r="0.15" fill="#3c57a2"/>
<circle cx="1086.50" cy="129.10" r="1.30" fill="#3c57a2"/>
<circle cx="1089.40" cy="129.10" r="1.17" fill="#3c57a2"/>
<circle cx="1092.30" cy="129.10" r="1.03" fill="#3c57a2"/>
<circle cx="1095.20" cy="129.10" r="0.89" fill="#3c57a2"/>
<circle cx="1098.10" cy="129.10" r="0.75" fill="#3c57a2"/>
<circle cx="1101.00" cy="129.10" r="0.61" fill="#3c57a2"/>
<circle cx="1103.90" cy="129.10" r="0.46" fill="#3c57a2"/>
<circle cx="1106.80" cy="129.10" r="0.31" fill="#3c57a2"/>
<circle cx="1109.70" cy="129.10" r="0.15" fill="#3c57a2"/>
<text x="1189.40" y="132.10" font-size="14.2" font-weight="900" fill="#3c57a2" text-anchor="end" letter-spacing="0.35"  stroke="#3c57a2" stroke-width="0.40" stroke-linejoin="round">江城支部</text>
<text x="1103.80" y="142.70" font-size="5.5" font-weight="700" fill="#56a6cf"  stroke="#56a6cf" stroke-width="0.19" textLength="85.1" lengthAdjust="spacingAndGlyphs">JIANG CHENG PARTY BRANCH</text>
<rect x="1090.20" y="156.80" width="17.70" height="25.70" fill="#dcdcdc" />
<rect x="1116.23" y="156.80" width="17.70" height="25.70" fill="#dcdcdc" />
<rect x="1142.26" y="156.80" width="17.70" height="25.70" fill="#dcdcdc" />
<rect x="1168.29" y="156.80" width="17.70" height="25.70" fill="#dcdcdc" />
<rect x="1090.20" y="187.90" width="17.70" height="25.70" fill="#dcdcdc" />
<rect x="1116.23" y="187.90" width="17.70" height="25.70" fill="#dcdcdc" />
<rect x="1142.26" y="187.90" width="17.70" height="25.70" fill="#dcdcdc" />
<rect x="1168.29" y="187.90" width="17.70" height="25.70" fill="#dcdcdc" />
<rect x="1090.20" y="219.00" width="17.70" height="25.70" fill="#dcdcdc" />
<rect x="1116.23" y="219.00" width="17.70" height="25.70" fill="#dcdcdc" />
<rect x="1142.26" y="219.00" width="17.70" height="25.70" fill="#dcdcdc" />
<rect x="1168.29" y="219.00" width="17.70" height="25.70" fill="#dcdcdc" />
<rect x="1090.20" y="250.10" width="17.70" height="25.70" fill="#dcdcdc" />
<rect x="1116.23" y="250.10" width="17.70" height="25.70" fill="#dcdcdc" />
<rect x="1142.26" y="250.10" width="17.70" height="25.70" fill="#dcdcdc" />
<rect x="1168.29" y="250.10" width="17.70" height="25.70" fill="#dcdcdc" />
<rect x="1090.20" y="281.20" width="17.70" height="25.70" fill="#dcdcdc" />
<rect x="1116.23" y="281.20" width="17.70" height="25.70" fill="#dcdcdc" />
<rect x="1142.26" y="281.20" width="17.70" height="25.70" fill="#dcdcdc" />
<rect x="1168.29" y="281.20" width="17.70" height="25.70" fill="#dcdcdc" />
<rect x="1221.30" y="169.80" width="141.70" height="233.40" fill="#bac7e6" />
<polygon points="1221.30,169.80 1260.00,169.80 1272.00,179.50 1229.20,179.50 1229.20,214.00 1221.30,220.00" fill="#e5825c" />
<polygon points="1260.00,169.80 1278.00,169.80 1290.00,179.50 1272.00,179.50" fill="#f0b7a4" />
<polygon points="1221.30,220.00 1229.20,214.00 1229.20,228.00 1221.30,236.00" fill="#f0b7a4" />
<rect x="1221.30" y="250.70" width="7.90" height="72.50" fill="#22388a" />
<rect x="1355.00" y="250.70" width="8.00" height="72.50" fill="#22388a" />
<polygon points="1221.30,352.00 1229.20,346.00 1229.20,394.30 1262.00,394.30 1250.00,403.20 1221.30,403.20" fill="#e5825c" />
<polygon points="1262.00,394.30 1282.00,394.30 1270.00,403.20 1250.00,403.20" fill="#f0b7a4" />
<polygon points="1221.30,336.00 1229.20,330.00 1229.20,346.00 1221.30,352.00" fill="#f0b7a4" />
<rect x="1229.20" y="179.50" width="125.80" height="214.80" fill="#ffffff" />
<circle cx="1240.50" cy="194.60" r="1.30" fill="#3c57a2"/>
<circle cx="1243.40" cy="194.60" r="1.17" fill="#3c57a2"/>
<circle cx="1246.30" cy="194.60" r="1.03" fill="#3c57a2"/>
<circle cx="1249.20" cy="194.60" r="0.89" fill="#3c57a2"/>
<circle cx="1252.10" cy="194.60" r="0.75" fill="#3c57a2"/>
<circle cx="1255.00" cy="194.60" r="0.61" fill="#3c57a2"/>
<circle cx="1257.90" cy="194.60" r="0.46" fill="#3c57a2"/>
<circle cx="1260.80" cy="194.60" r="0.31" fill="#3c57a2"/>
<circle cx="1263.70" cy="194.60" r="0.15" fill="#3c57a2"/>
<circle cx="1240.50" cy="198.40" r="1.30" fill="#3c57a2"/>
<circle cx="1243.40" cy="198.40" r="1.17" fill="#3c57a2"/>
<circle cx="1246.30" cy="198.40" r="1.03" fill="#3c57a2"/>
<circle cx="1249.20" cy="198.40" r="0.89" fill="#3c57a2"/>
<circle cx="1252.10" cy="198.40" r="0.75" fill="#3c57a2"/>
<circle cx="1255.00" cy="198.40" r="0.61" fill="#3c57a2"/>
<circle cx="1257.90" cy="198.40" r="0.46" fill="#3c57a2"/>
<circle cx="1260.80" cy="198.40" r="0.31" fill="#3c57a2"/>
<circle cx="1263.70" cy="198.40" r="0.15" fill="#3c57a2"/>
<text x="1343.30" y="202.30" font-size="14.2" font-weight="900" fill="#3c57a2" text-anchor="end" letter-spacing="0.35"  stroke="#3c57a2" stroke-width="0.40" stroke-linejoin="round">良富影支部</text>
<text x="1254.20" y="212.40" font-size="5.5" font-weight="700" fill="#56a6cf"  stroke="#56a6cf" stroke-width="0.19" textLength="88.9" lengthAdjust="spacingAndGlyphs">LIANG FU YING PARTY BRANCH</text>
<rect x="1244.20" y="226.00" width="17.70" height="25.70" fill="#dcdcdc" />
<rect x="1270.20" y="226.00" width="17.70" height="25.70" fill="#dcdcdc" />
<rect x="1296.20" y="226.00" width="17.70" height="25.70" fill="#dcdcdc" />
<rect x="1322.20" y="226.00" width="17.70" height="25.70" fill="#dcdcdc" />
<rect x="1244.20" y="257.30" width="17.70" height="25.70" fill="#dcdcdc" />
<rect x="1270.20" y="257.30" width="17.70" height="25.70" fill="#dcdcdc" />
<rect x="1296.20" y="257.30" width="17.70" height="25.70" fill="#dcdcdc" />
<rect x="1322.20" y="257.30" width="17.70" height="25.70" fill="#dcdcdc" />
<rect x="1244.20" y="288.60" width="17.70" height="25.70" fill="#dcdcdc" />
<rect x="1270.20" y="288.60" width="17.70" height="25.70" fill="#dcdcdc" />
<rect x="1296.20" y="288.60" width="17.70" height="25.70" fill="#dcdcdc" />
<rect x="1322.20" y="288.60" width="17.70" height="25.70" fill="#dcdcdc" />
<rect x="1244.20" y="319.90" width="17.70" height="25.70" fill="#dcdcdc" />
<rect x="1270.20" y="319.90" width="17.70" height="25.70" fill="#dcdcdc" />
<rect x="1296.20" y="319.90" width="17.70" height="25.70" fill="#dcdcdc" />
<rect x="1322.20" y="319.90" width="17.70" height="25.70" fill="#dcdcdc" />
<rect x="1244.20" y="351.20" width="17.70" height="25.70" fill="#dcdcdc" />
<rect x="1270.20" y="351.20" width="17.70" height="25.70" fill="#dcdcdc" />
<rect x="1296.20" y="351.20" width="17.70" height="25.70" fill="#dcdcdc" />
<rect x="1322.20" y="351.20" width="17.70" height="25.70" fill="#dcdcdc" />
<rect x="90.50" y="62.80" width="12.20" height="505.90" fill="#3c57a2" />
<rect x="294.30" y="62.80" width="12.50" height="505.90" fill="#3c57a2" />
<rect x="447.90" y="62.80" width="12.60" height="505.90" fill="#3c57a2" />
<rect x="602.00" y="62.80" width="12.40" height="505.90" fill="#3c57a2" />
<rect x="747.80" y="62.80" width="12.30" height="505.90" fill="#3c57a2" />
<rect x="901.00" y="62.80" width="12.70" height="505.90" fill="#3c57a2" />
<rect x="1055.20" y="62.80" width="12.70" height="505.90" fill="#3c57a2" />
<rect x="1209.00" y="62.80" width="12.30" height="505.90" fill="#3c57a2" />
<rect x="1363.00" y="62.80" width="12.20" height="505.90" fill="#3c57a2" />
<rect x="307.60" y="431.8" width="139.50" height="41.7" fill="#dcedf8" stroke="#1f2f6b" stroke-width="1.7"/>
<text x="379.55" y="459.30" font-size="20.6" font-weight="900" fill="#ffffff" text-anchor="middle" letter-spacing="4.4" stroke="#1f2f6b" stroke-width="1.9" paint-order="stroke" stroke-linejoin="round">砥砺奋进</text>
<rect x="461.30" y="431.8" width="139.90" height="41.7" fill="#dcedf8" stroke="#1f2f6b" stroke-width="1.7"/>
<text x="533.45" y="459.30" font-size="20.6" font-weight="900" fill="#ffffff" text-anchor="middle" letter-spacing="4.4" stroke="#1f2f6b" stroke-width="1.9" paint-order="stroke" stroke-linejoin="round">忠于职守</text>
<rect x="760.90" y="431.8" width="139.30" height="41.7" fill="#dcedf8" stroke="#1f2f6b" stroke-width="1.7"/>
<text x="806.40" y="458.2" font-size="15" font-weight="700" fill="#ffffff" stroke="#555a80" stroke-width="1.5" paint-order="stroke" stroke-linejoin="round" textLength="49.2" lengthAdjust="spacing">YI PIN</text>
<rect x="914.50" y="431.8" width="139.90" height="41.7" fill="#dcedf8" stroke="#1f2f6b" stroke-width="1.7"/>
<text x="952.80" y="458.2" font-size="15" font-weight="700" fill="#ffffff" stroke="#555a80" stroke-width="1.5" paint-order="stroke" stroke-linejoin="round" textLength="68.0" lengthAdjust="spacing">LUO LAN</text>
<rect x="1068.70" y="431.8" width="139.50" height="41.7" fill="#dcedf8" stroke="#1f2f6b" stroke-width="1.7"/>
<text x="1085.80" y="458.2" font-size="15" font-weight="700" fill="#ffffff" stroke="#555a80" stroke-width="1.5" paint-order="stroke" stroke-linejoin="round" textLength="107.4" lengthAdjust="spacing">JIANG CHENG</text>
<rect x="1222.10" y="431.8" width="140.10" height="41.7" fill="#dcedf8" stroke="#1f2f6b" stroke-width="1.7"/>
<text x="1231.60" y="458.2" font-size="15" font-weight="700" fill="#ffffff" stroke="#555a80" stroke-width="1.5" paint-order="stroke" stroke-linejoin="round" textLength="120.6" lengthAdjust="spacing">LIANG FU YING</text>
<rect x="36.50" y="614.20" width="1384.80" height="1046.30" fill="#efefef" />
<rect x="233.70" y="614.20" width="24.90" height="105.50" fill="#6cc1a6" />
<rect x="300.00" y="614.20" width="24.70" height="105.50" fill="#3c57a2" />
<rect x="376.40" y="656.00" width="24.60" height="31.90" fill="#3c57a2" />
<rect x="376.40" y="780.70" width="24.60" height="45.90" fill="#5aa7d0" />
<rect x="233.70" y="795.00" width="24.90" height="121.60" fill="#6cc1a6" />
<rect x="233.70" y="931.00" width="24.90" height="263.00" fill="#aedbc7" />
<rect x="285.20" y="1008.80" width="24.70" height="2.90" fill="#5aa7d0" />
<rect x="285.20" y="1015.86" width="24.70" height="2.90" fill="#5aa7d0" />
<rect x="285.20" y="1022.92" width="24.70" height="2.90" fill="#5aa7d0" />
<rect x="285.20" y="1029.98" width="24.70" height="2.90" fill="#5aa7d0" />
<rect x="285.20" y="1037.04" width="24.70" height="2.90" fill="#5aa7d0" />
<rect x="285.20" y="1044.10" width="24.70" height="2.90" fill="#5aa7d0" />
<rect x="285.20" y="1051.16" width="24.70" height="2.90" fill="#5aa7d0" />
<rect x="285.20" y="1058.22" width="24.70" height="2.90" fill="#5aa7d0" />
<rect x="285.20" y="1065.28" width="24.70" height="2.90" fill="#5aa7d0" />
<rect x="285.20" y="1072.34" width="24.70" height="2.90" fill="#5aa7d0" />
<rect x="285.20" y="1079.40" width="24.70" height="2.90" fill="#5aa7d0" />
<rect x="285.20" y="1086.46" width="24.70" height="2.90" fill="#5aa7d0" />
<rect x="285.20" y="1093.52" width="24.70" height="2.90" fill="#5aa7d0" />
<rect x="285.20" y="1100.58" width="24.70" height="2.90" fill="#5aa7d0" />
<rect x="285.20" y="1107.64" width="24.70" height="2.90" fill="#5aa7d0" />
<rect x="285.20" y="1114.70" width="24.70" height="2.90" fill="#5aa7d0" />
<rect x="285.20" y="1121.76" width="24.70" height="2.90" fill="#5aa7d0" />
<rect x="285.20" y="1128.82" width="24.70" height="2.90" fill="#5aa7d0" />
<rect x="285.20" y="1135.88" width="24.70" height="2.90" fill="#5aa7d0" />
<rect x="285.20" y="1142.94" width="24.70" height="2.90" fill="#5aa7d0" />
<rect x="285.20" y="1150.00" width="24.70" height="2.90" fill="#5aa7d0" />
<rect x="285.20" y="1157.06" width="24.70" height="2.90" fill="#5aa7d0" />
<rect x="285.20" y="1164.12" width="24.70" height="2.90" fill="#5aa7d0" />
<rect x="285.20" y="1171.18" width="24.70" height="2.90" fill="#5aa7d0" />
<rect x="285.20" y="1178.24" width="24.70" height="2.90" fill="#5aa7d0" />
<rect x="285.20" y="1185.30" width="24.70" height="2.90" fill="#5aa7d0" />
<rect x="285.20" y="1192.36" width="24.70" height="2.90" fill="#5aa7d0" />
<rect x="285.20" y="1202.30" width="24.70" height="458.20" fill="#3c57a2" />
<text font-size="47.5" font-weight="900" fill="#3c57a2" text-anchor="middle"  stroke="#3c57a2" stroke-width="1.90" stroke-linejoin="round"><tspan x="312.70" y="788.60">江</tspan><tspan x="312.70" y="842.90">滨</tspan><tspan x="312.70" y="897.20">社</tspan><tspan x="312.70" y="951.50">区</tspan></text>
<text font-size="52.5" font-weight="900" fill="#3c57a2" text-anchor="middle"  stroke="#3c57a2" stroke-width="2.10" stroke-linejoin="round"><tspan x="388.80" y="896.60">新</tspan><tspan x="388.80" y="956.10">时</tspan><tspan x="388.80" y="1015.60">代</tspan><tspan x="388.80" y="1075.10">文</tspan><tspan x="388.80" y="1134.60">明</tspan><tspan x="388.80" y="1194.10">实</tspan><tspan x="388.80" y="1253.60">践</tspan><tspan x="388.80" y="1313.10">站</tspan></text>
<text transform="translate(429.6,1088.9) rotate(90)" x="0" y="0" font-size="15.8" font-weight="700" fill="#26283a" stroke="#26283a" stroke-width="0.7" textLength="289.6" lengthAdjust="spacingAndGlyphs">XIN SHI DAI WEN MING SHI JIAN ZHAN</text>
<text font-size="28.5" font-weight="900" fill="#56a6cf" text-anchor="middle"  stroke="#56a6cf" stroke-width="1.14" stroke-linejoin="round"><tspan x="207.30" y="1183.50">习</tspan><tspan x="207.30" y="1222.40">文</tspan><tspan x="207.30" y="1261.30">明</tspan><tspan x="207.30" y="1300.20">礼</tspan><tspan x="207.30" y="1339.10">仪</tspan></text>
<text font-size="28.5" font-weight="900" fill="#56a6cf" text-anchor="middle"  stroke="#56a6cf" stroke-width="1.14" stroke-linejoin="round"><tspan x="246.30" y="1248.00">传</tspan><tspan x="246.30" y="1286.90">时</tspan><tspan x="246.30" y="1325.80">代</tspan><tspan x="246.30" y="1364.70">新</tspan><tspan x="246.30" y="1403.60">风</tspan></text>
<clipPath id="cpA"><path d="M522.8,614.2 H755.8 V1296 Q755.8,1324.4 729,1316.6 L536.3,1260.9 Q522.8,1257 522.8,1243 Z"/></clipPath>
<g clip-path="url(#cpA)">
<path d="M522.8,614.2 H755.8 V1296 Q755.8,1324.4 729,1316.6 L536.3,1260.9 Q522.8,1257 522.8,1243 Z" fill="#a9dcea"/>
<polygon points="522.00,614.00 756.00,614.00 756.00,849.00 742.40,844.00 742.40,627.80 535.50,627.80 535.50,716.00 522.00,710.00" fill="#6cc1a6" />
<polygon points="522.00,832.00 535.50,842.00 535.50,905.00 522.00,897.00" fill="#8fd0e2" />
<polygon points="742.40,905.00 756.00,897.00 756.00,985.00 742.40,995.00" fill="#8fd0e2" />
<polygon points="742.40,1019.00 756.00,1003.00 756.00,1330.00 700.00,1330.00 586.00,1275.00 590.00,1262.00 722.00,1300.00 722.00,1285.00 742.40,1285.00" fill="#22388a" />
</g>
<path d="M535.5,627.8 H742.4 V1296 Q742.4,1307.2 733,1304.5 L543.8,1250 Q535.5,1247.6 535.5,1240 Z" fill="#ffffff"/>
<circle cx="558.00" cy="704.80" r="2.15" fill="#3c57a2"/>
<circle cx="562.95" cy="704.80" r="1.93" fill="#3c57a2"/>
<circle cx="567.90" cy="704.80" r="1.70" fill="#3c57a2"/>
<circle cx="572.85" cy="704.80" r="1.48" fill="#3c57a2"/>
<circle cx="577.80" cy="704.80" r="1.25" fill="#3c57a2"/>
<circle cx="582.75" cy="704.80" r="1.01" fill="#3c57a2"/>
<circle cx="587.70" cy="704.80" r="0.77" fill="#3c57a2"/>
<circle cx="592.65" cy="704.80" r="0.52" fill="#3c57a2"/>
<circle cx="597.60" cy="704.80" r="0.25" fill="#3c57a2"/>
<circle cx="558.00" cy="710.20" r="2.15" fill="#3c57a2"/>
<circle cx="562.95" cy="710.20" r="1.93" fill="#3c57a2"/>
<circle cx="567.90" cy="710.20" r="1.70" fill="#3c57a2"/>
<circle cx="572.85" cy="710.20" r="1.48" fill="#3c57a2"/>
<circle cx="577.80" cy="710.20" r="1.25" fill="#3c57a2"/>
<circle cx="582.75" cy="710.20" r="1.01" fill="#3c57a2"/>
<circle cx="587.70" cy="710.20" r="0.77" fill="#3c57a2"/>
<circle cx="592.65" cy="710.20" r="0.52" fill="#3c57a2"/>
<circle cx="597.60" cy="710.20" r="0.25" fill="#3c57a2"/>
<circle cx="558.00" cy="715.60" r="2.15" fill="#3c57a2"/>
<circle cx="562.95" cy="715.60" r="1.93" fill="#3c57a2"/>
<circle cx="567.90" cy="715.60" r="1.70" fill="#3c57a2"/>
<circle cx="572.85" cy="715.60" r="1.48" fill="#3c57a2"/>
<circle cx="577.80" cy="715.60" r="1.25" fill="#3c57a2"/>
<circle cx="582.75" cy="715.60" r="1.01" fill="#3c57a2"/>
<circle cx="587.70" cy="715.60" r="0.77" fill="#3c57a2"/>
<circle cx="592.65" cy="715.60" r="0.52" fill="#3c57a2"/>
<circle cx="597.60" cy="715.60" r="0.25" fill="#3c57a2"/>
<circle cx="558.00" cy="721.00" r="2.15" fill="#3c57a2"/>
<circle cx="562.95" cy="721.00" r="1.93" fill="#3c57a2"/>
<circle cx="567.90" cy="721.00" r="1.70" fill="#3c57a2"/>
<circle cx="572.85" cy="721.00" r="1.48" fill="#3c57a2"/>
<circle cx="577.80" cy="721.00" r="1.25" fill="#3c57a2"/>
<circle cx="582.75" cy="721.00" r="1.01" fill="#3c57a2"/>
<circle cx="587.70" cy="721.00" r="0.77" fill="#3c57a2"/>
<circle cx="592.65" cy="721.00" r="0.52" fill="#3c57a2"/>
<circle cx="597.60" cy="721.00" r="0.25" fill="#3c57a2"/>
<text x="728.70" y="721.00" font-size="22.8" font-weight="900" fill="#3c57a2" text-anchor="end" letter-spacing="1.3"  stroke="#3c57a2" stroke-width="0.91" stroke-linejoin="round">组织架构</text>
<text x="586.70" y="739.00" font-size="9.5" font-weight="700" fill="#56a6cf"  stroke="#56a6cf" stroke-width="0.33" textLength="141.0" lengthAdjust="spacingAndGlyphs">ORGANIZATIONAL STRUCTURE</text>
<path d="M638.5,781 V797 M638.5,814.8 V826.7 M638.5,845.5 V852.8 M565.2,852.8 H712.9" stroke="#4a5aa8" stroke-width="0.7" fill="none"/>
<rect x="600.3" y="763" width="78.4" height="18.2" rx="2" fill="#3c57a2"/>
<rect x="600.3" y="796.6" width="78.4" height="18.2" rx="2" fill="#3c57a2"/>
<text x="639.50" y="775.40" font-size="8.6" font-weight="900" fill="#ffffff" text-anchor="middle" letter-spacing="0.4" >站长:钱芳文</text>
<text x="639.50" y="809.00" font-size="8.6" font-weight="900" fill="#ffffff" text-anchor="middle" letter-spacing="0.4" >副站长:沈红华</text>
<rect x="615" y="826.7" width="48.6" height="18.8" rx="2.2" fill="#fff" stroke="#4a5aa8" stroke-width="0.7"/>
<text x="639.30" y="839.80" font-size="9" font-weight="900" fill="#111" text-anchor="middle" letter-spacing="1" >成 员</text>
<path d="M565.20,852.8 V861.2" stroke="#4a5aa8" stroke-width="0.7" fill="none"/>
<rect x="555.60" y="861.2" width="19.2" height="53.3" rx="2.4" fill="#fff" stroke="#4a5aa8" stroke-width="0.7"/>
<text font-size="9.6" font-weight="900" fill="#111" text-anchor="middle" ><tspan x="565.20" y="880.55">刘</tspan><tspan x="565.20" y="891.45">玲</tspan><tspan x="565.20" y="902.35">霞</tspan></text>
<path d="M589.72,852.8 V861.2" stroke="#4a5aa8" stroke-width="0.7" fill="none"/>
<rect x="580.12" y="861.2" width="19.2" height="53.3" rx="2.4" fill="#fff" stroke="#4a5aa8" stroke-width="0.7"/>
<text font-size="9.6" font-weight="900" fill="#111" text-anchor="middle" ><tspan x="589.72" y="886.00">程</tspan><tspan x="589.72" y="896.90">思</tspan></text>
<path d="M614.24,852.8 V861.2" stroke="#4a5aa8" stroke-width="0.7" fill="none"/>
<rect x="604.64" y="861.2" width="19.2" height="53.3" rx="2.4" fill="#fff" stroke="#4a5aa8" stroke-width="0.7"/>
<text font-size="9.6" font-weight="900" fill="#111" text-anchor="middle" ><tspan x="614.24" y="880.55">金</tspan><tspan x="614.24" y="891.45">玉</tspan><tspan x="614.24" y="902.35">姣</tspan></text>
<path d="M638.76,852.8 V861.2" stroke="#4a5aa8" stroke-width="0.7" fill="none"/>
<rect x="629.16" y="861.2" width="19.2" height="53.3" rx="2.4" fill="#fff" stroke="#4a5aa8" stroke-width="0.7"/>
<text font-size="9.6" font-weight="900" fill="#111" text-anchor="middle" ><tspan x="638.76" y="880.55">张</tspan><tspan x="638.76" y="891.45">俊</tspan><tspan x="638.76" y="902.35">海</tspan></text>
<path d="M663.28,852.8 V861.2" stroke="#4a5aa8" stroke-width="0.7" fill="none"/>
<rect x="653.68" y="861.2" width="19.2" height="53.3" rx="2.4" fill="#fff" stroke="#4a5aa8" stroke-width="0.7"/>
<text font-size="9.6" font-weight="900" fill="#111" text-anchor="middle" ><tspan x="663.28" y="886.00">赵</tspan><tspan x="663.28" y="896.90">邦</tspan></text>
<path d="M687.80,852.8 V861.2" stroke="#4a5aa8" stroke-width="0.7" fill="none"/>
<rect x="678.20" y="861.2" width="19.2" height="53.3" rx="2.4" fill="#fff" stroke="#4a5aa8" stroke-width="0.7"/>
<text font-size="9.6" font-weight="900" fill="#111" text-anchor="middle" ><tspan x="687.80" y="880.55">谭</tspan><tspan x="687.80" y="891.45">爱</tspan><tspan x="687.80" y="902.35">蓉</tspan></text>
<path d="M712.32,852.8 V861.2" stroke="#4a5aa8" stroke-width="0.7" fill="none"/>
<rect x="702.72" y="861.2" width="19.2" height="53.3" rx="2.4" fill="#fff" stroke="#4a5aa8" stroke-width="0.7"/>
<text font-size="9.6" font-weight="900" fill="#111" text-anchor="middle" ><tspan x="712.32" y="886.00">王</tspan><tspan x="712.32" y="896.90">琦</tspan></text>
<circle cx="558.00" cy="958.20" r="2.15" fill="#3c57a2"/>
<circle cx="562.95" cy="958.20" r="1.93" fill="#3c57a2"/>
<circle cx="567.90" cy="958.20" r="1.70" fill="#3c57a2"/>
<circle cx="572.85" cy="958.20" r="1.48" fill="#3c57a2"/>
<circle cx="577.80" cy="958.20" r="1.25" fill="#3c57a2"/>
<circle cx="582.75" cy="958.20" r="1.01" fill="#3c57a2"/>
<circle cx="587.70" cy="958.20" r="0.77" fill="#3c57a2"/>
<circle cx="592.65" cy="958.20" r="0.52" fill="#3c57a2"/>
<circle cx="597.60" cy="958.20" r="0.25" fill="#3c57a2"/>
<circle cx="558.00" cy="963.60" r="2.15" fill="#3c57a2"/>
<circle cx="562.95" cy="963.60" r="1.93" fill="#3c57a2"/>
<circle cx="567.90" cy="963.60" r="1.70" fill="#3c57a2"/>
<circle cx="572.85" cy="963.60" r="1.48" fill="#3c57a2"/>
<circle cx="577.80" cy="963.60" r="1.25" fill="#3c57a2"/>
<circle cx="582.75" cy="963.60" r="1.01" fill="#3c57a2"/>
<circle cx="587.70" cy="963.60" r="0.77" fill="#3c57a2"/>
<circle cx="592.65" cy="963.60" r="0.52" fill="#3c57a2"/>
<circle cx="597.60" cy="963.60" r="0.25" fill="#3c57a2"/>
<circle cx="558.00" cy="969.00" r="2.15" fill="#3c57a2"/>
<circle cx="562.95" cy="969.00" r="1.93" fill="#3c57a2"/>
<circle cx="567.90" cy="969.00" r="1.70" fill="#3c57a2"/>
<circle cx="572.85" cy="969.00" r="1.48" fill="#3c57a2"/>
<circle cx="577.80" cy="969.00" r="1.25" fill="#3c57a2"/>
<circle cx="582.75" cy="969.00" r="1.01" fill="#3c57a2"/>
<circle cx="587.70" cy="969.00" r="0.77" fill="#3c57a2"/>
<circle cx="592.65" cy="969.00" r="0.52" fill="#3c57a2"/>
<circle cx="597.60" cy="969.00" r="0.25" fill="#3c57a2"/>
<circle cx="558.00" cy="974.40" r="2.15" fill="#3c57a2"/>
<circle cx="562.95" cy="974.40" r="1.93" fill="#3c57a2"/>
<circle cx="567.90" cy="974.40" r="1.70" fill="#3c57a2"/>
<circle cx="572.85" cy="974.40" r="1.48" fill="#3c57a2"/>
<circle cx="577.80" cy="974.40" r="1.25" fill="#3c57a2"/>
<circle cx="582.75" cy="974.40" r="1.01" fill="#3c57a2"/>
<circle cx="587.70" cy="974.40" r="0.77" fill="#3c57a2"/>
<circle cx="592.65" cy="974.40" r="0.52" fill="#3c57a2"/>
<circle cx="597.60" cy="974.40" r="0.25" fill="#3c57a2"/>
<text x="729.10" y="974.30" font-size="22.8" font-weight="900" fill="#3c57a2" text-anchor="end" letter-spacing="1.3"  stroke="#3c57a2" stroke-width="0.91" stroke-linejoin="round">志愿者队伍</text>
<text x="643.80" y="990.60" font-size="9.5" font-weight="700" fill="#56a6cf"  stroke="#56a6cf" stroke-width="0.33" textLength="83.5" lengthAdjust="spacingAndGlyphs">VOLUNTEER TEAM</text>
<rect x="568.1" y="1008.6" width="137.1" height="15" rx="1.8" fill="#3c57a2"/>
<text x="636.70" y="1018.40" font-size="6.1" font-weight="700" fill="#ffffff" text-anchor="middle" letter-spacing="0.95" >江滨社区新时代文明实践志愿者服务队</text>
<path d="M636.7,1023.6 V1028.4 M559.8,1028.4 H717.9" stroke="#4a5aa8" stroke-width="0.7" fill="none"/>
<path d="M559.85,1028.4 V1034.1" stroke="#4a5aa8" stroke-width="0.7" fill="none"/>
<rect x="552.20" y="1034.1" width="15.3" height="73.5" rx="2" fill="#fff" stroke="#4a5aa8" stroke-width="0.7"/>
<text font-size="5.2" font-weight="900" fill="#111" text-anchor="middle" stroke="#111" stroke-width="0.2"><tspan x="559.85" y="1045.20">星</tspan><tspan x="559.85" y="1050.65">火</tspan><tspan x="559.85" y="1056.10">闪</tspan><tspan x="559.85" y="1061.55">耀</tspan><tspan x="559.85" y="1067.00">党</tspan><tspan x="559.85" y="1072.45">员</tspan><tspan x="559.85" y="1077.90">志</tspan><tspan x="559.85" y="1083.35">愿</tspan><tspan x="559.85" y="1088.80">服</tspan><tspan x="559.85" y="1094.25">务</tspan><tspan x="559.85" y="1099.70">队</tspan></text>
<path d="M591.49,1028.4 V1034.1" stroke="#4a5aa8" stroke-width="0.7" fill="none"/>
<rect x="583.84" y="1034.1" width="15.3" height="73.5" rx="2" fill="#fff" stroke="#4a5aa8" stroke-width="0.7"/>
<text font-size="5.2" font-weight="900" fill="#111" text-anchor="middle" stroke="#111" stroke-width="0.2"><tspan x="591.49" y="1045.20">滨</tspan><tspan x="591.49" y="1050.65">滨</tspan><tspan x="591.49" y="1056.10">有</tspan><tspan x="591.49" y="1061.55">礼</tspan><tspan x="591.49" y="1067.00">志</tspan><tspan x="591.49" y="1072.45">愿</tspan><tspan x="591.49" y="1077.90">服</tspan><tspan x="591.49" y="1083.35">务</tspan><tspan x="591.49" y="1088.80">队</tspan></text>
<path d="M623.13,1028.4 V1034.1" stroke="#4a5aa8" stroke-width="0.7" fill="none"/>
<rect x="615.48" y="1034.1" width="15.3" height="73.5" rx="2" fill="#fff" stroke="#4a5aa8" stroke-width="0.7"/>
<text font-size="5.2" font-weight="900" fill="#111" text-anchor="middle" stroke="#111" stroke-width="0.2"><tspan x="623.13" y="1045.20">春</tspan><tspan x="623.13" y="1050.65">江</tspan><tspan x="623.13" y="1056.10">妇</tspan><tspan x="623.13" y="1061.55">联</tspan><tspan x="623.13" y="1067.00">巾</tspan><tspan x="623.13" y="1072.45">帼</tspan><tspan x="623.13" y="1077.90">志</tspan><tspan x="623.13" y="1083.35">愿</tspan><tspan x="623.13" y="1088.80">服</tspan><tspan x="623.13" y="1094.25">务</tspan><tspan x="623.13" y="1099.70">队</tspan></text>
<path d="M654.77,1028.4 V1034.1" stroke="#4a5aa8" stroke-width="0.7" fill="none"/>
<rect x="647.12" y="1034.1" width="15.3" height="73.5" rx="2" fill="#fff" stroke="#4a5aa8" stroke-width="0.7"/>
<text font-size="5.2" font-weight="900" fill="#111" text-anchor="middle" stroke="#111" stroke-width="0.2"><tspan x="654.77" y="1045.20">暖</tspan><tspan x="654.77" y="1050.65">万</tspan><tspan x="654.77" y="1056.10">家</tspan><tspan x="654.77" y="1061.55">敬</tspan><tspan x="654.77" y="1067.00">老</tspan><tspan x="654.77" y="1072.45">志</tspan><tspan x="654.77" y="1077.90">愿</tspan><tspan x="654.77" y="1083.35">服</tspan><tspan x="654.77" y="1088.80">务</tspan><tspan x="654.77" y="1094.25">队</tspan></text>
<path d="M686.41,1028.4 V1034.1" stroke="#4a5aa8" stroke-width="0.7" fill="none"/>
<rect x="678.76" y="1034.1" width="15.3" height="73.5" rx="2" fill="#fff" stroke="#4a5aa8" stroke-width="0.7"/>
<text font-size="5.2" font-weight="900" fill="#111" text-anchor="middle" stroke="#111" stroke-width="0.2"><tspan x="686.41" y="1045.20">友</tspan><tspan x="686.41" y="1050.65">如</tspan><tspan x="686.41" y="1056.10">青</tspan><tspan x="686.41" y="1061.55">年</tspan><tspan x="686.41" y="1067.00">志</tspan><tspan x="686.41" y="1072.45">愿</tspan><tspan x="686.41" y="1077.90">服</tspan><tspan x="686.41" y="1083.35">务</tspan><tspan x="686.41" y="1088.80">队</tspan></text>
<path d="M718.05,1028.4 V1034.1" stroke="#4a5aa8" stroke-width="0.7" fill="none"/>
<rect x="710.40" y="1034.1" width="15.3" height="73.5" rx="2" fill="#fff" stroke="#4a5aa8" stroke-width="0.7"/>
<text font-size="5.2" font-weight="900" fill="#111" text-anchor="middle" stroke="#111" stroke-width="0.2"><tspan x="718.05" y="1045.20">翎</tspan><tspan x="718.05" y="1050.65">舟</tspan><tspan x="718.05" y="1056.10">乡</tspan><tspan x="718.05" y="1061.55">贤</tspan><tspan x="718.05" y="1067.00">志</tspan><tspan x="718.05" y="1072.45">愿</tspan><tspan x="718.05" y="1077.90">者</tspan><tspan x="718.05" y="1083.35">服</tspan><tspan x="718.05" y="1088.80">务</tspan><tspan x="718.05" y="1094.25">队</tspan></text>
<clipPath id="cpC"><path d="M1087.8,614.2 H1320.8 V1296 Q1320.8,1324.4 1294,1316.6 L1101.3,1260.9 Q1087.8,1257 1087.8,1243 Z"/></clipPath>
<g clip-path="url(#cpC)">
<path d="M1087.8,614.2 H1320.8 V1296 Q1320.8,1324.4 1294,1316.6 L1101.3,1260.9 Q1087.8,1257 1087.8,1243 Z" fill="#f6e2d3"/>
<rect x="1087.00" y="637.90" width="13.50" height="218.20" fill="#f8d38b" />
<polygon points="1307.40,783.00 1322.00,778.00 1322.00,1089.00 1307.40,1094.00" fill="#e2714a" />
<polygon points="1087.00,972.00 1100.50,981.00 1100.50,1240.00 1108.80,1250.00 1120.60,1253.50 1121.50,1270.00 1087.00,1262.00" fill="#e2714a" />
<polygon points="1307.40,1109.00 1322.00,1103.00 1322.00,1330.00 1260.00,1330.00 1121.50,1270.00 1120.60,1253.50 1287.00,1300.00 1287.00,1285.00 1307.40,1285.00" fill="#22388a" />
</g>
<path d="M1100.5,627.7 H1307.4 V1296 Q1307.4,1307.2 1298,1304.5 L1108.8,1250 Q1100.5,1247.6 1100.5,1240 Z" fill="#ffffff"/>
<circle cx="1124.40" cy="704.80" r="2.15" fill="#3c57a2"/>
<circle cx="1129.35" cy="704.80" r="1.93" fill="#3c57a2"/>
<circle cx="1134.30" cy="704.80" r="1.70" fill="#3c57a2"/>
<circle cx="1139.25" cy="704.80" r="1.48" fill="#3c57a2"/>
<circle cx="1144.20" cy="704.80" r="1.25" fill="#3c57a2"/>
<circle cx="1149.15" cy="704.80" r="1.01" fill="#3c57a2"/>
<circle cx="1154.10" cy="704.80" r="0.77" fill="#3c57a2"/>
<circle cx="1159.05" cy="704.80" r="0.52" fill="#3c57a2"/>
<circle cx="1164.00" cy="704.80" r="0.25" fill="#3c57a2"/>
<circle cx="1124.40" cy="710.20" r="2.15" fill="#3c57a2"/>
<circle cx="1129.35" cy="710.20" r="1.93" fill="#3c57a2"/>
<circle cx="1134.30" cy="710.20" r="1.70" fill="#3c57a2"/>
<circle cx="1139.25" cy="710.20" r="1.48" fill="#3c57a2"/>
<circle cx="1144.20" cy="710.20" r="1.25" fill="#3c57a2"/>
<circle cx="1149.15" cy="710.20" r="1.01" fill="#3c57a2"/>
<circle cx="1154.10" cy="710.20" r="0.77" fill="#3c57a2"/>
<circle cx="1159.05" cy="710.20" r="0.52" fill="#3c57a2"/>
<circle cx="1164.00" cy="710.20" r="0.25" fill="#3c57a2"/>
<circle cx="1124.40" cy="715.60" r="2.15" fill="#3c57a2"/>
<circle cx="1129.35" cy="715.60" r="1.93" fill="#3c57a2"/>
<circle cx="1134.30" cy="715.60" r="1.70" fill="#3c57a2"/>
<circle cx="1139.25" cy="715.60" r="1.48" fill="#3c57a2"/>
<circle cx="1144.20" cy="715.60" r="1.25" fill="#3c57a2"/>
<circle cx="1149.15" cy="715.60" r="1.01" fill="#3c57a2"/>
<circle cx="1154.10" cy="715.60" r="0.77" fill="#3c57a2"/>
<circle cx="1159.05" cy="715.60" r="0.52" fill="#3c57a2"/>
<circle cx="1164.00" cy="715.60" r="0.25" fill="#3c57a2"/>
<circle cx="1124.40" cy="721.00" r="2.15" fill="#3c57a2"/>
<circle cx="1129.35" cy="721.00" r="1.93" fill="#3c57a2"/>
<circle cx="1134.30" cy="721.00" r="1.70" fill="#3c57a2"/>
<circle cx="1139.25" cy="721.00" r="1.48" fill="#3c57a2"/>
<circle cx="1144.20" cy="721.00" r="1.25" fill="#3c57a2"/>
<circle cx="1149.15" cy="721.00" r="1.01" fill="#3c57a2"/>
<circle cx="1154.10" cy="721.00" r="0.77" fill="#3c57a2"/>
<circle cx="1159.05" cy="721.00" r="0.52" fill="#3c57a2"/>
<circle cx="1164.00" cy="721.00" r="0.25" fill="#3c57a2"/>
<text x="1295.60" y="720.80" font-size="22.8" font-weight="900" fill="#3c57a2" text-anchor="end" letter-spacing="1.3"  stroke="#3c57a2" stroke-width="0.91" stroke-linejoin="round">站点风采</text>
<text x="1222.60" y="739.10" font-size="9.5" font-weight="700" fill="#56a6cf"  stroke="#56a6cf" stroke-width="0.33" textLength="71.6" lengthAdjust="spacingAndGlyphs">STATION STYLE</text>
<rect x="1123.95" y="762.55" width="45.20" height="69.80" fill="#ededed" stroke="#3c57a2" stroke-width="3.5"/>
<rect x="1181.65" y="762.55" width="44.80" height="69.80" fill="#ededed" stroke="#6cc1a6" stroke-width="3.5"/>
<rect x="1239.05" y="762.55" width="45.50" height="69.80" fill="#ededed" stroke="#3c57a2" stroke-width="3.5"/>
<rect x="1123.95" y="844.85" width="74.80" height="47.90" fill="#ededed" stroke="#6cc1a6" stroke-width="3.5"/>
<rect x="1209.45" y="844.85" width="75.10" height="47.90" fill="#ededed" stroke="#3c57a2" stroke-width="3.5"/>
<rect x="1123.95" y="904.85" width="45.20" height="69.70" fill="#ededed" stroke="#6cc1a6" stroke-width="3.5"/>
<rect x="1180.00" y="903.20" width="106.20" height="73.00" fill="#3c57a2" />
<text x="1233.40" y="935.60" font-size="24.6" font-weight="900" fill="#ffffff" text-anchor="middle" stroke="#fff" stroke-width="0.5">讲文明</text>
<text x="1233.40" y="962.90" font-size="24.6" font-weight="900" fill="#ffffff" text-anchor="middle" stroke="#fff" stroke-width="0.5">树新风</text>
<rect x="1123.95" y="986.85" width="74.80" height="48.00" fill="#ededed" stroke="#3c57a2" stroke-width="3.5"/>
<rect x="1209.45" y="986.85" width="75.10" height="48.00" fill="#ededed" stroke="#6cc1a6" stroke-width="3.5"/>
<rect x="1122.30" y="1045.40" width="163.90" height="73.60" fill="#3c57a2" />
<rect x="1180.00" y="1049.60" width="41.30" height="65.20" fill="#ececec" />
<rect x="1237.60" y="1049.60" width="41.60" height="65.20" fill="#ececec" />
<text font-size="7.4" font-weight="900" fill="#ffffff" text-anchor="middle" ><tspan x="1145.20" y="1057.40">活</tspan><tspan x="1145.20" y="1064.95">动</tspan><tspan x="1145.20" y="1072.50">计</tspan><tspan x="1145.20" y="1080.05">划</tspan></text>
<text font-size="7.4" font-weight="900" fill="#ffffff" text-anchor="middle" ><tspan x="1135.10" y="1057.40">新</tspan><tspan x="1135.10" y="1064.95">时</tspan><tspan x="1135.10" y="1072.50">代</tspan><tspan x="1135.10" y="1080.05">文</tspan><tspan x="1135.10" y="1087.60">明</tspan><tspan x="1135.10" y="1095.15">实</tspan><tspan x="1135.10" y="1102.70">践</tspan><tspan x="1135.10" y="1110.25">站</tspan></text>
<text font-size="7.6" font-weight="500" fill="#6cc1a6" text-anchor="middle" ><tspan x="1171.80" y="1057.00">当</tspan><tspan x="1171.80" y="1064.75">月</tspan><tspan x="1171.80" y="1072.50">活</tspan><tspan x="1171.80" y="1080.25">动</tspan><tspan x="1171.80" y="1088.00">计</tspan><tspan x="1171.80" y="1095.75">划</tspan></text>
<text font-size="7.6" font-weight="500" fill="#6cc1a6" text-anchor="middle" ><tspan x="1230.70" y="1057.00">下</tspan><tspan x="1230.70" y="1064.75">月</tspan><tspan x="1230.70" y="1072.50">活</tspan><tspan x="1230.70" y="1080.25">动</tspan><tspan x="1230.70" y="1088.00">计</tspan><tspan x="1230.70" y="1095.75">划</tspan></text>
<clipPath id="cpB"><path d="M805.3,1660.5 V1036 Q805.3,1019.9 820,1015.5 L1010,959.3 Q1038.1,951 1038.1,979 V1660.5 Z"/></clipPath>
<g clip-path="url(#cpB)">
<path d="M805.3,1660.5 V1036 Q805.3,1019.9 820,1015.5 L1010,959.3 Q1038.1,951 1038.1,979 V1660.5 Z" fill="#bac7e6"/>
<polygon points="800.00,1000.00 846.60,1000.00 854.70,1018.00 817.80,1030.00 817.80,1612.00 800.00,1626.00" fill="#e6876b" />
<polygon points="846.60,1000.00 885.80,990.00 892.00,1006.00 854.70,1018.00" fill="#efb9a9" />
<polygon points="800.00,1626.00 817.80,1612.00 817.80,1647.60 832.00,1647.60 820.00,1661.00 800.00,1661.00" fill="#f3cbbf" />
<rect x="1025.30" y="1197.30" width="13.70" height="221.80" fill="#22388a" />
</g>
<path d="M817.8,1647.6 V1034.4 Q817.8,1027.5 825.3,1025.3 L1014,969.6 Q1025.3,966.3 1025.3,980 V1647.6 Z" fill="#ffffff"/>
<circle cx="845.30" cy="1056.40" r="2.15" fill="#3c57a2"/>
<circle cx="850.25" cy="1056.40" r="1.93" fill="#3c57a2"/>
<circle cx="855.20" cy="1056.40" r="1.70" fill="#3c57a2"/>
<circle cx="860.15" cy="1056.40" r="1.48" fill="#3c57a2"/>
<circle cx="865.10" cy="1056.40" r="1.25" fill="#3c57a2"/>
<circle cx="870.05" cy="1056.40" r="1.01" fill="#3c57a2"/>
<circle cx="875.00" cy="1056.40" r="0.77" fill="#3c57a2"/>
<circle cx="879.95" cy="1056.40" r="0.52" fill="#3c57a2"/>
<circle cx="884.90" cy="1056.40" r="0.25" fill="#3c57a2"/>
<circle cx="845.30" cy="1061.80" r="2.15" fill="#3c57a2"/>
<circle cx="850.25" cy="1061.80" r="1.93" fill="#3c57a2"/>
<circle cx="855.20" cy="1061.80" r="1.70" fill="#3c57a2"/>
<circle cx="860.15" cy="1061.80" r="1.48" fill="#3c57a2"/>
<circle cx="865.10" cy="1061.80" r="1.25" fill="#3c57a2"/>
<circle cx="870.05" cy="1061.80" r="1.01" fill="#3c57a2"/>
<circle cx="875.00" cy="1061.80" r="0.77" fill="#3c57a2"/>
<circle cx="879.95" cy="1061.80" r="0.52" fill="#3c57a2"/>
<circle cx="884.90" cy="1061.80" r="0.25" fill="#3c57a2"/>
<circle cx="845.30" cy="1067.20" r="2.15" fill="#3c57a2"/>
<circle cx="850.25" cy="1067.20" r="1.93" fill="#3c57a2"/>
<circle cx="855.20" cy="1067.20" r="1.70" fill="#3c57a2"/>
<circle cx="860.15" cy="1067.20" r="1.48" fill="#3c57a2"/>
<circle cx="865.10" cy="1067.20" r="1.25" fill="#3c57a2"/>
<circle cx="870.05" cy="1067.20" r="1.01" fill="#3c57a2"/>
<circle cx="875.00" cy="1067.20" r="0.77" fill="#3c57a2"/>
<circle cx="879.95" cy="1067.20" r="0.52" fill="#3c57a2"/>
<circle cx="884.90" cy="1067.20" r="0.25" fill="#3c57a2"/>
<circle cx="845.30" cy="1072.60" r="2.15" fill="#3c57a2"/>
<circle cx="850.25" cy="1072.60" r="1.93" fill="#3c57a2"/>
<circle cx="855.20" cy="1072.60" r="1.70" fill="#3c57a2"/>
<circle cx="860.15" cy="1072.60" r="1.48" fill="#3c57a2"/>
<circle cx="865.10" cy="1072.60" r="1.25" fill="#3c57a2"/>
<circle cx="870.05" cy="1072.60" r="1.01" fill="#3c57a2"/>
<circle cx="875.00" cy="1072.60" r="0.77" fill="#3c57a2"/>
<circle cx="879.95" cy="1072.60" r="0.52" fill="#3c57a2"/>
<circle cx="884.90" cy="1072.60" r="0.25" fill="#3c57a2"/>
<text x="1014.10" y="1072.90" font-size="22.8" font-weight="900" fill="#3c57a2" text-anchor="end" letter-spacing="1.3"  stroke="#3c57a2" stroke-width="0.91" stroke-linejoin="round">工作制度</text>
<text x="926.20" y="1091.70" font-size="9.7" font-weight="700" fill="#56a6cf"  stroke="#56a6cf" stroke-width="0.34" textLength="87.3" lengthAdjust="spacingAndGlyphs">WORKING SYSTEM</text>
<text x="834.60" y="1104.60" font-size="3.75" font-weight="700" fill="#111" stroke="#111" stroke-width="0.169" textLength="178.8" lengthAdjust="spacingAndGlyphs">　　为切实加强对社区新时代文明实践站的组织管理，健全制度化、规范化、规范化、特制定本制度。</text>
<text x="834.60" y="1110.57" font-size="3.75" font-weight="700" fill="#111" stroke="#111" stroke-width="0.169" textLength="178.8" lengthAdjust="spacingAndGlyphs">　　1、工作例行制度。社区新时代文明实践工作由社区党支部负责统筹协调，社区书记负责全面抓新时代</text>
<text x="834.60" y="1116.54" font-size="3.75" font-weight="700" fill="#111" stroke="#111" stroke-width="0.169" textLength="98.9" lengthAdjust="spacingAndGlyphs">文明实践站的工作，其中包括活动的组织和负责日常管理。</text>
<text x="834.60" y="1122.51" font-size="3.75" font-weight="700" fill="#111" stroke="#111" stroke-width="0.169" textLength="178.8" lengthAdjust="spacingAndGlyphs">　　2、工作指导制度。按街道新时代文明实践所的统一部署，做好活动策划及选题，制定年度工作</text>
<text x="834.60" y="1128.48" font-size="3.75" font-weight="700" fill="#111" stroke="#111" stroke-width="0.169" textLength="178.8" lengthAdjust="spacingAndGlyphs">规划，根据所中心要求负责根据年度活动部署，实施步骤，配套指导督工作的季度及管理制度，抓好设计</text>
<text x="834.60" y="1134.45" font-size="3.75" font-weight="700" fill="#111" stroke="#111" stroke-width="0.169" textLength="57.1" lengthAdjust="spacingAndGlyphs">会议、时间安排等组织实施工作。</text>
<text x="834.60" y="1140.42" font-size="3.75" font-weight="700" fill="#111" stroke="#111" stroke-width="0.169" textLength="178.8" lengthAdjust="spacingAndGlyphs">　　3、同步管理制度。按上级总站的部署做好工作维护和接收信息工作，同步做好做实评价收集，进</text>
<text x="834.60" y="1146.39" font-size="3.75" font-weight="700" fill="#111" stroke="#111" stroke-width="0.169" textLength="117.9" lengthAdjust="spacingAndGlyphs">度工作，做好实践站点的资料收集和整理，按期进行计划和发展规划。</text>
<text x="834.60" y="1152.36" font-size="3.75" font-weight="700" fill="#111" stroke="#111" stroke-width="0.169" textLength="178.8" lengthAdjust="spacingAndGlyphs">　　4、督导考核制度。街道新时代文明实践所对社区干部考核，作为入党、入团、评优、社区干部选拔任</text>
<text x="834.60" y="1158.33" font-size="3.75" font-weight="700" fill="#111" stroke="#111" stroke-width="0.169" textLength="34.2" lengthAdjust="spacingAndGlyphs">用的重要参考依据。</text>
<text x="834.60" y="1164.30" font-size="3.75" font-weight="700" fill="#111" stroke="#111" stroke-width="0.169" textLength="178.8" lengthAdjust="spacingAndGlyphs">　　5、表彰推广制度。结合优秀志愿者和最美文明实践站，建立表彰队伍，加强各项活动新时代文明</text>
<text x="834.60" y="1170.27" font-size="3.75" font-weight="700" fill="#111" stroke="#111" stroke-width="0.169" textLength="178.8" lengthAdjust="spacingAndGlyphs">实践站制度建设，促动开展新时代文明实践活动的常态化，鼓励广大市民群众文明实践工作的影响力。</text>
<circle cx="845.30" cy="1198.80" r="2.15" fill="#3c57a2"/>
<circle cx="850.25" cy="1198.80" r="1.93" fill="#3c57a2"/>
<circle cx="855.20" cy="1198.80" r="1.70" fill="#3c57a2"/>
<circle cx="860.15" cy="1198.80" r="1.48" fill="#3c57a2"/>
<circle cx="865.10" cy="1198.80" r="1.25" fill="#3c57a2"/>
<circle cx="870.05" cy="1198.80" r="1.01" fill="#3c57a2"/>
<circle cx="875.00" cy="1198.80" r="0.77" fill="#3c57a2"/>
<circle cx="879.95" cy="1198.80" r="0.52" fill="#3c57a2"/>
<circle cx="884.90" cy="1198.80" r="0.25" fill="#3c57a2"/>
<circle cx="845.30" cy="1204.20" r="2.15" fill="#3c57a2"/>
<circle cx="850.25" cy="1204.20" r="1.93" fill="#3c57a2"/>
<circle cx="855.20" cy="1204.20" r="1.70" fill="#3c57a2"/>
<circle cx="860.15" cy="1204.20" r="1.48" fill="#3c57a2"/>
<circle cx="865.10" cy="1204.20" r="1.25" fill="#3c57a2"/>
<circle cx="870.05" cy="1204.20" r="1.01" fill="#3c57a2"/>
<circle cx="875.00" cy="1204.20" r="0.77" fill="#3c57a2"/>
<circle cx="879.95" cy="1204.20" r="0.52" fill="#3c57a2"/>
<circle cx="884.90" cy="1204.20" r="0.25" fill="#3c57a2"/>
<circle cx="845.30" cy="1209.60" r="2.15" fill="#3c57a2"/>
<circle cx="850.25" cy="1209.60" r="1.93" fill="#3c57a2"/>
<circle cx="855.20" cy="1209.60" r="1.70" fill="#3c57a2"/>
<circle cx="860.15" cy="1209.60" r="1.48" fill="#3c57a2"/>
<circle cx="865.10" cy="1209.60" r="1.25" fill="#3c57a2"/>
<circle cx="870.05" cy="1209.60" r="1.01" fill="#3c57a2"/>
<circle cx="875.00" cy="1209.60" r="0.77" fill="#3c57a2"/>
<circle cx="879.95" cy="1209.60" r="0.52" fill="#3c57a2"/>
<circle cx="884.90" cy="1209.60" r="0.25" fill="#3c57a2"/>
<circle cx="845.30" cy="1215.00" r="2.15" fill="#3c57a2"/>
<circle cx="850.25" cy="1215.00" r="1.93" fill="#3c57a2"/>
<circle cx="855.20" cy="1215.00" r="1.70" fill="#3c57a2"/>
<circle cx="860.15" cy="1215.00" r="1.48" fill="#3c57a2"/>
<circle cx="865.10" cy="1215.00" r="1.25" fill="#3c57a2"/>
<circle cx="870.05" cy="1215.00" r="1.01" fill="#3c57a2"/>
<circle cx="875.00" cy="1215.00" r="0.77" fill="#3c57a2"/>
<circle cx="879.95" cy="1215.00" r="0.52" fill="#3c57a2"/>
<circle cx="884.90" cy="1215.00" r="0.25" fill="#3c57a2"/>
<text x="1014.50" y="1215.30" font-size="22.8" font-weight="900" fill="#3c57a2" text-anchor="end" letter-spacing="1.3"  stroke="#3c57a2" stroke-width="0.91" stroke-linejoin="round">管理制度</text>
<text x="906.60" y="1233.50" font-size="9.7" font-weight="700" fill="#56a6cf"  stroke="#56a6cf" stroke-width="0.34" textLength="107.4" lengthAdjust="spacingAndGlyphs">MANAGEMENT SYSTEM</text>
<text x="834.60" y="1246.20" font-size="3.75" font-weight="700" fill="#111" stroke="#111" stroke-width="0.169" textLength="114.1" lengthAdjust="spacingAndGlyphs">　　为切实加强“新时代文明实践站”的有效管理，特制定本制度。</text>
<text x="834.60" y="1252.17" font-size="3.75" font-weight="700" fill="#111" stroke="#111" stroke-width="0.169" textLength="110.3" lengthAdjust="spacingAndGlyphs">　　一、“新时代文明实践站”由社区党组织负责日常管理工作。</text>
<text x="834.60" y="1258.14" font-size="3.75" font-weight="700" fill="#111" stroke="#111" stroke-width="0.169" textLength="178.8" lengthAdjust="spacingAndGlyphs">　　二、“新时代文明实践站”要按照街道学习工作领导小组的统一部署，认真制定年度工作计划。</text>
<text x="834.60" y="1264.11" font-size="3.75" font-weight="700" fill="#111" stroke="#111" stroke-width="0.169" textLength="178.8" lengthAdjust="spacingAndGlyphs">　　三、“新时代文明实践站”要围绕习近平新时代中国特色社会主义思想，传理论、传政策、传文化、</text>
<text x="834.60" y="1270.08" font-size="3.75" font-weight="700" fill="#111" stroke="#111" stroke-width="0.169" textLength="152.2" lengthAdjust="spacingAndGlyphs">传道德、传科技，精心策划学习内容，及时做好宣讲资料，积极配合街道的各种宣传工作。</text>
<text x="834.60" y="1276.05" font-size="3.75" font-weight="700" fill="#111" stroke="#111" stroke-width="0.169" textLength="178.8" lengthAdjust="spacingAndGlyphs">　　四、“新时代文明实践站”要加强讲人队伍思想道德素质，提高讲师信心能力，开心讲课，精心讲课，</text>
<text x="834.60" y="1282.02" font-size="3.75" font-weight="700" fill="#111" stroke="#111" stroke-width="0.169" textLength="26.6" lengthAdjust="spacingAndGlyphs">讲活认真学习。</text>
<text x="834.60" y="1287.99" font-size="3.75" font-weight="700" fill="#111" stroke="#111" stroke-width="0.169" textLength="178.8" lengthAdjust="spacingAndGlyphs">　　五、“新时代文明实践站”要规范管理、有序、文明、和谐，成为新时代中国特色社会主义思想</text>
<text x="834.60" y="1293.96" font-size="3.75" font-weight="700" fill="#111" stroke="#111" stroke-width="0.169" textLength="30.4" lengthAdjust="spacingAndGlyphs">传播的重要阵地。</text>
<circle cx="845.30" cy="1329.80" r="2.15" fill="#3c57a2"/>
<circle cx="850.25" cy="1329.80" r="1.93" fill="#3c57a2"/>
<circle cx="855.20" cy="1329.80" r="1.70" fill="#3c57a2"/>
<circle cx="860.15" cy="1329.80" r="1.48" fill="#3c57a2"/>
<circle cx="865.10" cy="1329.80" r="1.25" fill="#3c57a2"/>
<circle cx="870.05" cy="1329.80" r="1.01" fill="#3c57a2"/>
<circle cx="875.00" cy="1329.80" r="0.77" fill="#3c57a2"/>
<circle cx="879.95" cy="1329.80" r="0.52" fill="#3c57a2"/>
<circle cx="884.90" cy="1329.80" r="0.25" fill="#3c57a2"/>
<circle cx="845.30" cy="1335.20" r="2.15" fill="#3c57a2"/>
<circle cx="850.25" cy="1335.20" r="1.93" fill="#3c57a2"/>
<circle cx="855.20" cy="1335.20" r="1.70" fill="#3c57a2"/>
<circle cx="860.15" cy="1335.20" r="1.48" fill="#3c57a2"/>
<circle cx="865.10" cy="1335.20" r="1.25" fill="#3c57a2"/>
<circle cx="870.05" cy="1335.20" r="1.01" fill="#3c57a2"/>
<circle cx="875.00" cy="1335.20" r="0.77" fill="#3c57a2"/>
<circle cx="879.95" cy="1335.20" r="0.52" fill="#3c57a2"/>
<circle cx="884.90" cy="1335.20" r="0.25" fill="#3c57a2"/>
<circle cx="845.30" cy="1340.60" r="2.15" fill="#3c57a2"/>
<circle cx="850.25" cy="1340.60" r="1.93" fill="#3c57a2"/>
<circle cx="855.20" cy="1340.60" r="1.70" fill="#3c57a2"/>
<circle cx="860.15" cy="1340.60" r="1.48" fill="#3c57a2"/>
<circle cx="865.10" cy="1340.60" r="1.25" fill="#3c57a2"/>
<circle cx="870.05" cy="1340.60" r="1.01" fill="#3c57a2"/>
<circle cx="875.00" cy="1340.60" r="0.77" fill="#3c57a2"/>
<circle cx="879.95" cy="1340.60" r="0.52" fill="#3c57a2"/>
<circle cx="884.90" cy="1340.60" r="0.25" fill="#3c57a2"/>
<circle cx="845.30" cy="1346.00" r="2.15" fill="#3c57a2"/>
<circle cx="850.25" cy="1346.00" r="1.93" fill="#3c57a2"/>
<circle cx="855.20" cy="1346.00" r="1.70" fill="#3c57a2"/>
<circle cx="860.15" cy="1346.00" r="1.48" fill="#3c57a2"/>
<circle cx="865.10" cy="1346.00" r="1.25" fill="#3c57a2"/>
<circle cx="870.05" cy="1346.00" r="1.01" fill="#3c57a2"/>
<circle cx="875.00" cy="1346.00" r="0.77" fill="#3c57a2"/>
<circle cx="879.95" cy="1346.00" r="0.52" fill="#3c57a2"/>
<circle cx="884.90" cy="1346.00" r="0.25" fill="#3c57a2"/>
<text x="1014.30" y="1346.10" font-size="22.8" font-weight="900" fill="#3c57a2" text-anchor="end" letter-spacing="1.3"  stroke="#3c57a2" stroke-width="0.91" stroke-linejoin="round">工作职责</text>
<text x="931.60" y="1363.40" font-size="9.7" font-weight="700" fill="#56a6cf"  stroke="#56a6cf" stroke-width="0.34" textLength="81.4" lengthAdjust="spacingAndGlyphs">OPERATING DUTY</text>
<text x="834.60" y="1374.90" font-size="3.75" font-weight="700" fill="#111" stroke="#111" stroke-width="0.169" textLength="124.4" lengthAdjust="spacingAndGlyphs">　　为切实加强“新时代文明实践站”的有效管理，特将工作职责如下：</text>
<text x="834.60" y="1380.87" font-size="3.75" font-weight="700" fill="#111" stroke="#111" stroke-width="0.169" textLength="116.6" lengthAdjust="spacingAndGlyphs">　　一、“新时代文明实践站”日常活动由社区负责组织管理工作。</text>
<text x="834.60" y="1386.84" font-size="3.75" font-weight="700" fill="#111" stroke="#111" stroke-width="0.169" textLength="178.8" lengthAdjust="spacingAndGlyphs">　　二、“新时代文明实践站”要按照新时代文明实践站的领导小组的统一部署，认真制定年度学习活动</text>
<text x="834.60" y="1392.81" font-size="3.75" font-weight="700" fill="#111" stroke="#111" stroke-width="0.169" textLength="23.3" lengthAdjust="spacingAndGlyphs">计划并公示。</text>
<text x="834.60" y="1398.78" font-size="3.75" font-weight="700" fill="#111" stroke="#111" stroke-width="0.169" textLength="178.8" lengthAdjust="spacingAndGlyphs">　　三、“新时代文明实践站”要围绕学习宣传新时代中国特色社会主义思想，精心策划实践站的学习和</text>
<text x="834.60" y="1404.75" font-size="3.75" font-weight="700" fill="#111" stroke="#111" stroke-width="0.169" textLength="101.1" lengthAdjust="spacingAndGlyphs">活动内容，及时做好宣讲资料，积极配合街道的宣传工作。</text>
<text x="834.60" y="1410.72" font-size="3.75" font-weight="700" fill="#111" stroke="#111" stroke-width="0.169" textLength="143.8" lengthAdjust="spacingAndGlyphs">　　四、“新时代文明实践站”要加强讲人队伍思想道德素质，提高讲师信心能力。</text>
<text x="834.60" y="1416.69" font-size="3.75" font-weight="700" fill="#111" stroke="#111" stroke-width="0.169" textLength="178.8" lengthAdjust="spacingAndGlyphs">　　为保证活动的时效性、人员管理、经费保障：讲师讲课信心能力、开心讲课、精心讲课、学员认</text>
<text x="834.60" y="1422.66" font-size="3.75" font-weight="700" fill="#111" stroke="#111" stroke-width="0.169" textLength="66.1" lengthAdjust="spacingAndGlyphs">真学习；坚持长效机制定期检查评比。</text>
<text x="834.60" y="1428.63" font-size="3.75" font-weight="700" fill="#111" stroke="#111" stroke-width="0.169" textLength="178.8" lengthAdjust="spacingAndGlyphs">　　五、“新时代文明实践站”要规范管理、有序、文明和谐，成为传播新思想的主阵地，推进新时代</text>
<text x="834.60" y="1434.60" font-size="3.75" font-weight="700" fill="#111" stroke="#111" stroke-width="0.169" textLength="70.0" lengthAdjust="spacingAndGlyphs">中国特色社会主义思想传播的重要阵地。</text>
<rect x="36.50" y="1679.30" width="1384.90" height="512.50" fill="#efefef" />
<text x="327.1" y="1819.8" font-size="31" font-weight="900" fill="#3c57a2" stroke="#3c57a2" stroke-width="1.7" stroke-linejoin="round" textLength="116.5" lengthAdjust="spacing">“3+2+1</text>
<text x="447.4" y="1820" font-size="31.6" font-weight="900" fill="#3c57a2" stroke="#3c57a2" stroke-width="1" stroke-linejoin="round" letter-spacing="4.8">协商议事机制</text>
<text x="666" y="1819.8" font-size="31" font-weight="900" fill="#3c57a2" stroke="#3c57a2" stroke-width="1.7" stroke-linejoin="round">”</text>
<rect x="218.30" y="1851.40" width="3.30" height="25.60" fill="#6cc1a6" />
<rect x="225.38" y="1851.40" width="3.30" height="25.60" fill="#6cc1a6" />
<rect x="232.46" y="1851.40" width="3.30" height="25.60" fill="#6cc1a6" />
<rect x="239.54" y="1851.40" width="3.30" height="25.60" fill="#6cc1a6" />
<rect x="246.62" y="1851.40" width="3.30" height="25.60" fill="#6cc1a6" />
<rect x="253.70" y="1851.40" width="3.30" height="25.60" fill="#6cc1a6" />
<rect x="260.78" y="1851.40" width="3.30" height="25.60" fill="#6cc1a6" />
<rect x="268.40" y="1851.40" width="142.50" height="25.60" fill="#6cc1a6" />
<circle cx="456.10" cy="1861.30" r="18.00" fill="#6cc1a6" />
<polygon points="115.60,1889.00 503.40,1889.00 503.40,1920.70 100.50,1920.70" fill="#3c57a2" />
<text x="122.2" y="1911.6" font-size="17.4" font-weight="900" fill="#ffffff" textLength="28.6" lengthAdjust="spacing">“3”</text>
<text x="160.6" y="1911.4" font-size="16.8" font-weight="900" fill="#ffffff" stroke="#fff" stroke-width="0.4" letter-spacing="0.83">是议题多元化、决策民主化、治理长效化</text>
<path d="M517.8,1914.7 V1885 H537.4 V1841.4 H554.3 V1872.5 H563.2 V1913.5 H577 M543.6,1846.5 V1914.7 M557,1878.5 V1914.7" stroke="#e06c45" fill="none" stroke-width="2.9" stroke-linejoin="miter"/>
<path d="M523.4,1891.2 H534 M523.4,1895.7 H534 M523.4,1900.2 H534 M523.4,1904.7 H534" stroke="#e06c45" stroke-width="2.1" fill="none"/>
<path d="M560.6,1869.5 V1857.8 H574.8 V1869 H583.7 V1877.9 H622.3" stroke="#e06c45" fill="none" stroke-width="2.9" stroke-linejoin="miter"/>
<path d="M591.6,1897 L607.4,1887.6 L623,1897 M595.4,1896 V1914.2 H601.6 V1903.8 H608.6 V1914.2 H618.3 V1897 M623,1902.6 L635.4,1894.2 L647.8,1902.6 M626.6,1901 V1914.2 H631 V1905.6 H637 V1914.2 H644.4 V1901 M644.4,1914.2 H736" stroke="#e06c45" fill="none" stroke-width="2.9" stroke-linejoin="miter"/>
<text transform="translate(653,1872) scale(1.02,1.4)" x="0" y="22.3" font-size="58" font-weight="900" fill="#3c57a2" text-anchor="middle">一</text>
<text x="708.50" y="1881.80" font-size="58" font-weight="900" fill="#3c57a2" text-anchor="middle" stroke="#3c57a2" stroke-width="1.2" stroke-linejoin="round">和</text>
<text x="768.80" y="1881.80" font-size="58" font-weight="900" fill="#3c57a2" text-anchor="middle" stroke="#3c57a2" stroke-width="1.2" stroke-linejoin="round">邻</text>
<rect x="772.00" y="1880.00" width="10.30" height="36.00" fill="#3c57a2" />
<text x="829.60" y="1898.60" font-size="55" font-weight="900" fill="#6cc1a6" text-anchor="middle"  stroke="#6cc1a6" stroke-width="2.20" stroke-linejoin="round">议</text>
<path d="M836,1901.8 Q850,1898 856,1889.8 H978.5 V1901.8 Z" fill="#6cc1a6"/>
<text x="892.30" y="1881.80" font-size="58" font-weight="900" fill="#3c57a2" text-anchor="middle" stroke="#3c57a2" stroke-width="1.2" stroke-linejoin="round">事</text>
<text x="951.10" y="1881.80" font-size="58" font-weight="900" fill="#3c57a2" text-anchor="middle" stroke="#3c57a2" stroke-width="1.2" stroke-linejoin="round">厅</text>
<path d="M788.8,1817.7 L792,1816.3 A9,9 0 0 1 807.5,1805 A14,14 0 0 1 834.2,1806 L834.8,1810 A7,7 0 0 1 846.9,1813.9" stroke="#e06c45" fill="none" stroke-width="2.4" stroke-linecap="round"/>
<path d="M844.6,1819.9 A8,8 0 0 1 852.5,1811.5 A14,14 0 0 1 878.5,1813 A6,6 0 0 1 886.8,1819.5 A8,8 0 0 1 894,1820.7 H898.8" stroke="#e06c45" fill="none" stroke-width="2.4" stroke-linecap="round"/>
<polygon points="352.70,1935.20 613.40,1935.20 613.40,1960.50 340.70,1960.50" fill="#5aa7d0" />
<text x="397" y="1954.4" font-size="18.2" font-weight="700" fill="none" stroke="#a9d6ee" stroke-width="0.7" textLength="162.2" lengthAdjust="spacing">ASSEMBLY HALL</text>
<rect x="614.60" y="1935.20" width="2.90" height="25.30" fill="#5aa7d0" />
<rect x="621.38" y="1935.20" width="2.90" height="25.30" fill="#5aa7d0" />
<rect x="628.16" y="1935.20" width="2.90" height="25.30" fill="#5aa7d0" />
<rect x="634.94" y="1935.20" width="2.90" height="25.30" fill="#5aa7d0" />
<rect x="641.72" y="1935.20" width="2.90" height="25.30" fill="#5aa7d0" />
<rect x="648.50" y="1935.20" width="2.90" height="25.30" fill="#5aa7d0" />
<rect x="655.28" y="1935.20" width="2.90" height="25.30" fill="#5aa7d0" />
<rect x="662.06" y="1935.20" width="2.90" height="25.30" fill="#5aa7d0" />
<rect x="668.84" y="1935.20" width="2.90" height="25.30" fill="#5aa7d0" />
<rect x="675.62" y="1935.20" width="2.90" height="25.30" fill="#5aa7d0" />
<circle cx="614.30" cy="1962.30" r="14.50" fill="#6cc1a6" />
<linearGradient id="pg" x1="0" x2="1" y1="0" y2="0"><stop offset="0" stop-color="#ffffff"/><stop offset="0.18" stop-color="#f4faf4"/><stop offset="1" stop-color="#6bb36f"/></linearGradient>
<rect x="321.1" y="1981.9" width="171.2" height="29.2" rx="14.6" fill="url(#pg)"/>
<path d="M306.8,2006.4 H341.2 L343,2016.6 L352.7,2006.4 H470" stroke="#79bb7d" stroke-width="1.1" fill="none"/>
<text x="428.20" y="2001.80" font-size="20.3" font-weight="900" fill="#ffffff" text-anchor="middle" letter-spacing="1" font-style="italic" stroke="#fff" stroke-width="0.8">化解矛盾</text>
<polygon points="964.80,1788.70 1199.90,1788.70 1199.90,1821.20 949.10,1821.20" fill="#3c57a2" />
<text x="982" y="1812.4" font-size="19.6" font-weight="900" fill="#ffffff" textLength="30.1" lengthAdjust="spacing">“2”</text>
<text x="1023.3" y="1812.2" font-size="19" font-weight="900" fill="#ffffff" stroke="#fff" stroke-width="0.45" letter-spacing="1.25">是党员和居民监督</text>
<circle cx="1272.80" cy="1841.70" r="10.70" fill="#56a6cf" />
<rect x="1099.80" y="1862.00" width="186.90" height="26.40" fill="#3c57a2" />
<polygon points="1068.80,1898.70 1344.60,1898.70 1344.60,1911.00 1061.20,1911.00" fill="#6cc1a6" />
<path d="M921.2,1914.8 H1051.8 M1001.6,1914.8 V1872.7 H1013.7 V1902.2 H1018.1 V1845.3 H1038.4 V1881 H1051.8 V1914.8" stroke="#e06c45" fill="none" stroke-width="2.9" stroke-linejoin="miter"/>
<rect x="1024.70" y="1848.00" width="13.00" height="3.40" fill="#e06c45" />
<rect x="1024.70" y="1852.50" width="13.00" height="3.40" fill="#e06c45" />
<rect x="1024.70" y="1857.00" width="13.00" height="3.40" fill="#e06c45" />
<rect x="1024.70" y="1861.50" width="13.00" height="3.40" fill="#e06c45" />
<rect x="1024.70" y="1866.00" width="13.00" height="3.40" fill="#e06c45" />
<rect x="1024.70" y="1870.50" width="13.00" height="3.40" fill="#e06c45" />
<rect x="1038.40" y="1884.40" width="12.60" height="3.40" fill="#e06c45" />
<rect x="1038.40" y="1888.90" width="12.60" height="3.40" fill="#e06c45" />
<rect x="1038.40" y="1893.40" width="12.60" height="3.40" fill="#e06c45" />
<rect x="1038.40" y="1897.90" width="12.60" height="3.40" fill="#e06c45" />
<rect x="849.80" y="1921.60" width="3.60" height="30.10" fill="#5aa7d0" />
<rect x="856.88" y="1921.60" width="3.60" height="30.10" fill="#5aa7d0" />
<rect x="863.96" y="1921.60" width="3.60" height="30.10" fill="#5aa7d0" />
<rect x="871.04" y="1921.60" width="3.60" height="30.10" fill="#5aa7d0" />
<rect x="878.12" y="1921.60" width="3.60" height="30.10" fill="#5aa7d0" />
<rect x="885.20" y="1921.60" width="3.60" height="30.10" fill="#5aa7d0" />
<rect x="892.28" y="1921.60" width="3.60" height="30.10" fill="#5aa7d0" />
<rect x="899.36" y="1921.60" width="3.60" height="30.10" fill="#5aa7d0" />
<rect x="906.44" y="1921.60" width="3.60" height="30.10" fill="#5aa7d0" />
<rect x="912.70" y="1921.60" width="292.30" height="30.10" fill="#3c57a2" />
<text x="960.3" y="1944" font-size="19.6" font-weight="900" fill="#ffffff" textLength="27.7" lengthAdjust="spacing">“1”</text>
<text x="999.3" y="1943.8" font-size="19" font-weight="900" fill="#ffffff" stroke="#fff" stroke-width="0.45" letter-spacing="2.45">是一议题一结果</text>
<circle cx="1179.70" cy="1960.50" r="17.80" fill="#56a6cf" />
<circle cx="811.60" cy="1954.40" r="10.80" fill="#3c57a2" />
<rect x="884.8" y="1970.4" width="171.3" height="33" rx="16.5" fill="url(#pg)"/>
<path d="M867.6,1998.2 H905.8 L908,2011 L919.5,1998.4 H1030" stroke="#79bb7d" stroke-width="1.1" fill="none"/>
<text x="981.00" y="1993.60" font-size="22" font-weight="900" fill="#ffffff" text-anchor="middle" letter-spacing="2.2" font-style="italic" stroke="#fff" stroke-width="0.8">排忧解难</text>
<g fill="#ffffff" opacity="0.16" font-size="29" font-weight="500" text-anchor="middle" letter-spacing="3">
<text x="80.0" y="2237.0">享设计</text>
<text x="406.2" y="2237.0">享设计</text>
<text x="732.4" y="2237.0">享设计</text>
<text x="1058.6" y="2237.0">享设计</text>
<text x="1384.8" y="2237.0">享设计</text>
<text x="245.6" y="2076.5">享设计</text>
<text x="571.8" y="2076.5">享设计</text>
<text x="898.0" y="2076.5">享设计</text>
<text x="1224.2" y="2076.5">享设计</text>
<text x="80.0" y="1916.0">享设计</text>
<text x="406.2" y="1916.0">享设计</text>
<text x="732.4" y="1916.0">享设计</text>
<text x="1058.6" y="1916.0">享设计</text>
<text x="1384.8" y="1916.0">享设计</text>
<text x="245.6" y="1755.5">享设计</text>
<text x="571.8" y="1755.5">享设计</text>
<text x="898.0" y="1755.5">享设计</text>
<text x="1224.2" y="1755.5">享设计</text>
<text x="80.0" y="1595.0">享设计</text>
<text x="406.2" y="1595.0">享设计</text>
<text x="732.4" y="1595.0">享设计</text>
<text x="1058.6" y="1595.0">享设计</text>
<text x="1384.8" y="1595.0">享设计</text>
<text x="245.6" y="1434.5">享设计</text>
<text x="571.8" y="1434.5">享设计</text>
<text x="898.0" y="1434.5">享设计</text>
<text x="1224.2" y="1434.5">享设计</text>
<text x="80.0" y="1274.0">享设计</text>
<text x="406.2" y="1274.0">享设计</text>
<text x="732.4" y="1274.0">享设计</text>
<text x="1058.6" y="1274.0">享设计</text>
<text x="1384.8" y="1274.0">享设计</text>
<text x="245.6" y="1113.5">享设计</text>
<text x="571.8" y="1113.5">享设计</text>
<text x="898.0" y="1113.5">享设计</text>
<text x="1224.2" y="1113.5">享设计</text>
<text x="80.0" y="953.0">享设计</text>
<text x="406.2" y="953.0">享设计</text>
<text x="732.4" y="953.0">享设计</text>
<text x="1058.6" y="953.0">享设计</text>
<text x="1384.8" y="953.0">享设计</text>
<text x="245.6" y="792.5">享设计</text>
<text x="571.8" y="792.5">享设计</text>
<text x="898.0" y="792.5">享设计</text>
<text x="1224.2" y="792.5">享设计</text>
<text x="80.0" y="632.0">享设计</text>
<text x="406.2" y="632.0">享设计</text>
<text x="732.4" y="632.0">享设计</text>
<text x="1058.6" y="632.0">享设计</text>
<text x="1384.8" y="632.0">享设计</text>
<text x="245.6" y="471.5">享设计</text>
<text x="571.8" y="471.5">享设计</text>
<text x="898.0" y="471.5">享设计</text>
<text x="1224.2" y="471.5">享设计</text>
<text x="80.0" y="311.0">享设计</text>
<text x="406.2" y="311.0">享设计</text>
<text x="732.4" y="311.0">享设计</text>
<text x="1058.6" y="311.0">享设计</text>
<text x="1384.8" y="311.0">享设计</text>
<text x="245.6" y="150.5">享设计</text>
<text x="571.8" y="150.5">享设计</text>
<text x="898.0" y="150.5">享设计</text>
<text x="1224.2" y="150.5">享设计</text>
</g>
</svg>
</body></html>
